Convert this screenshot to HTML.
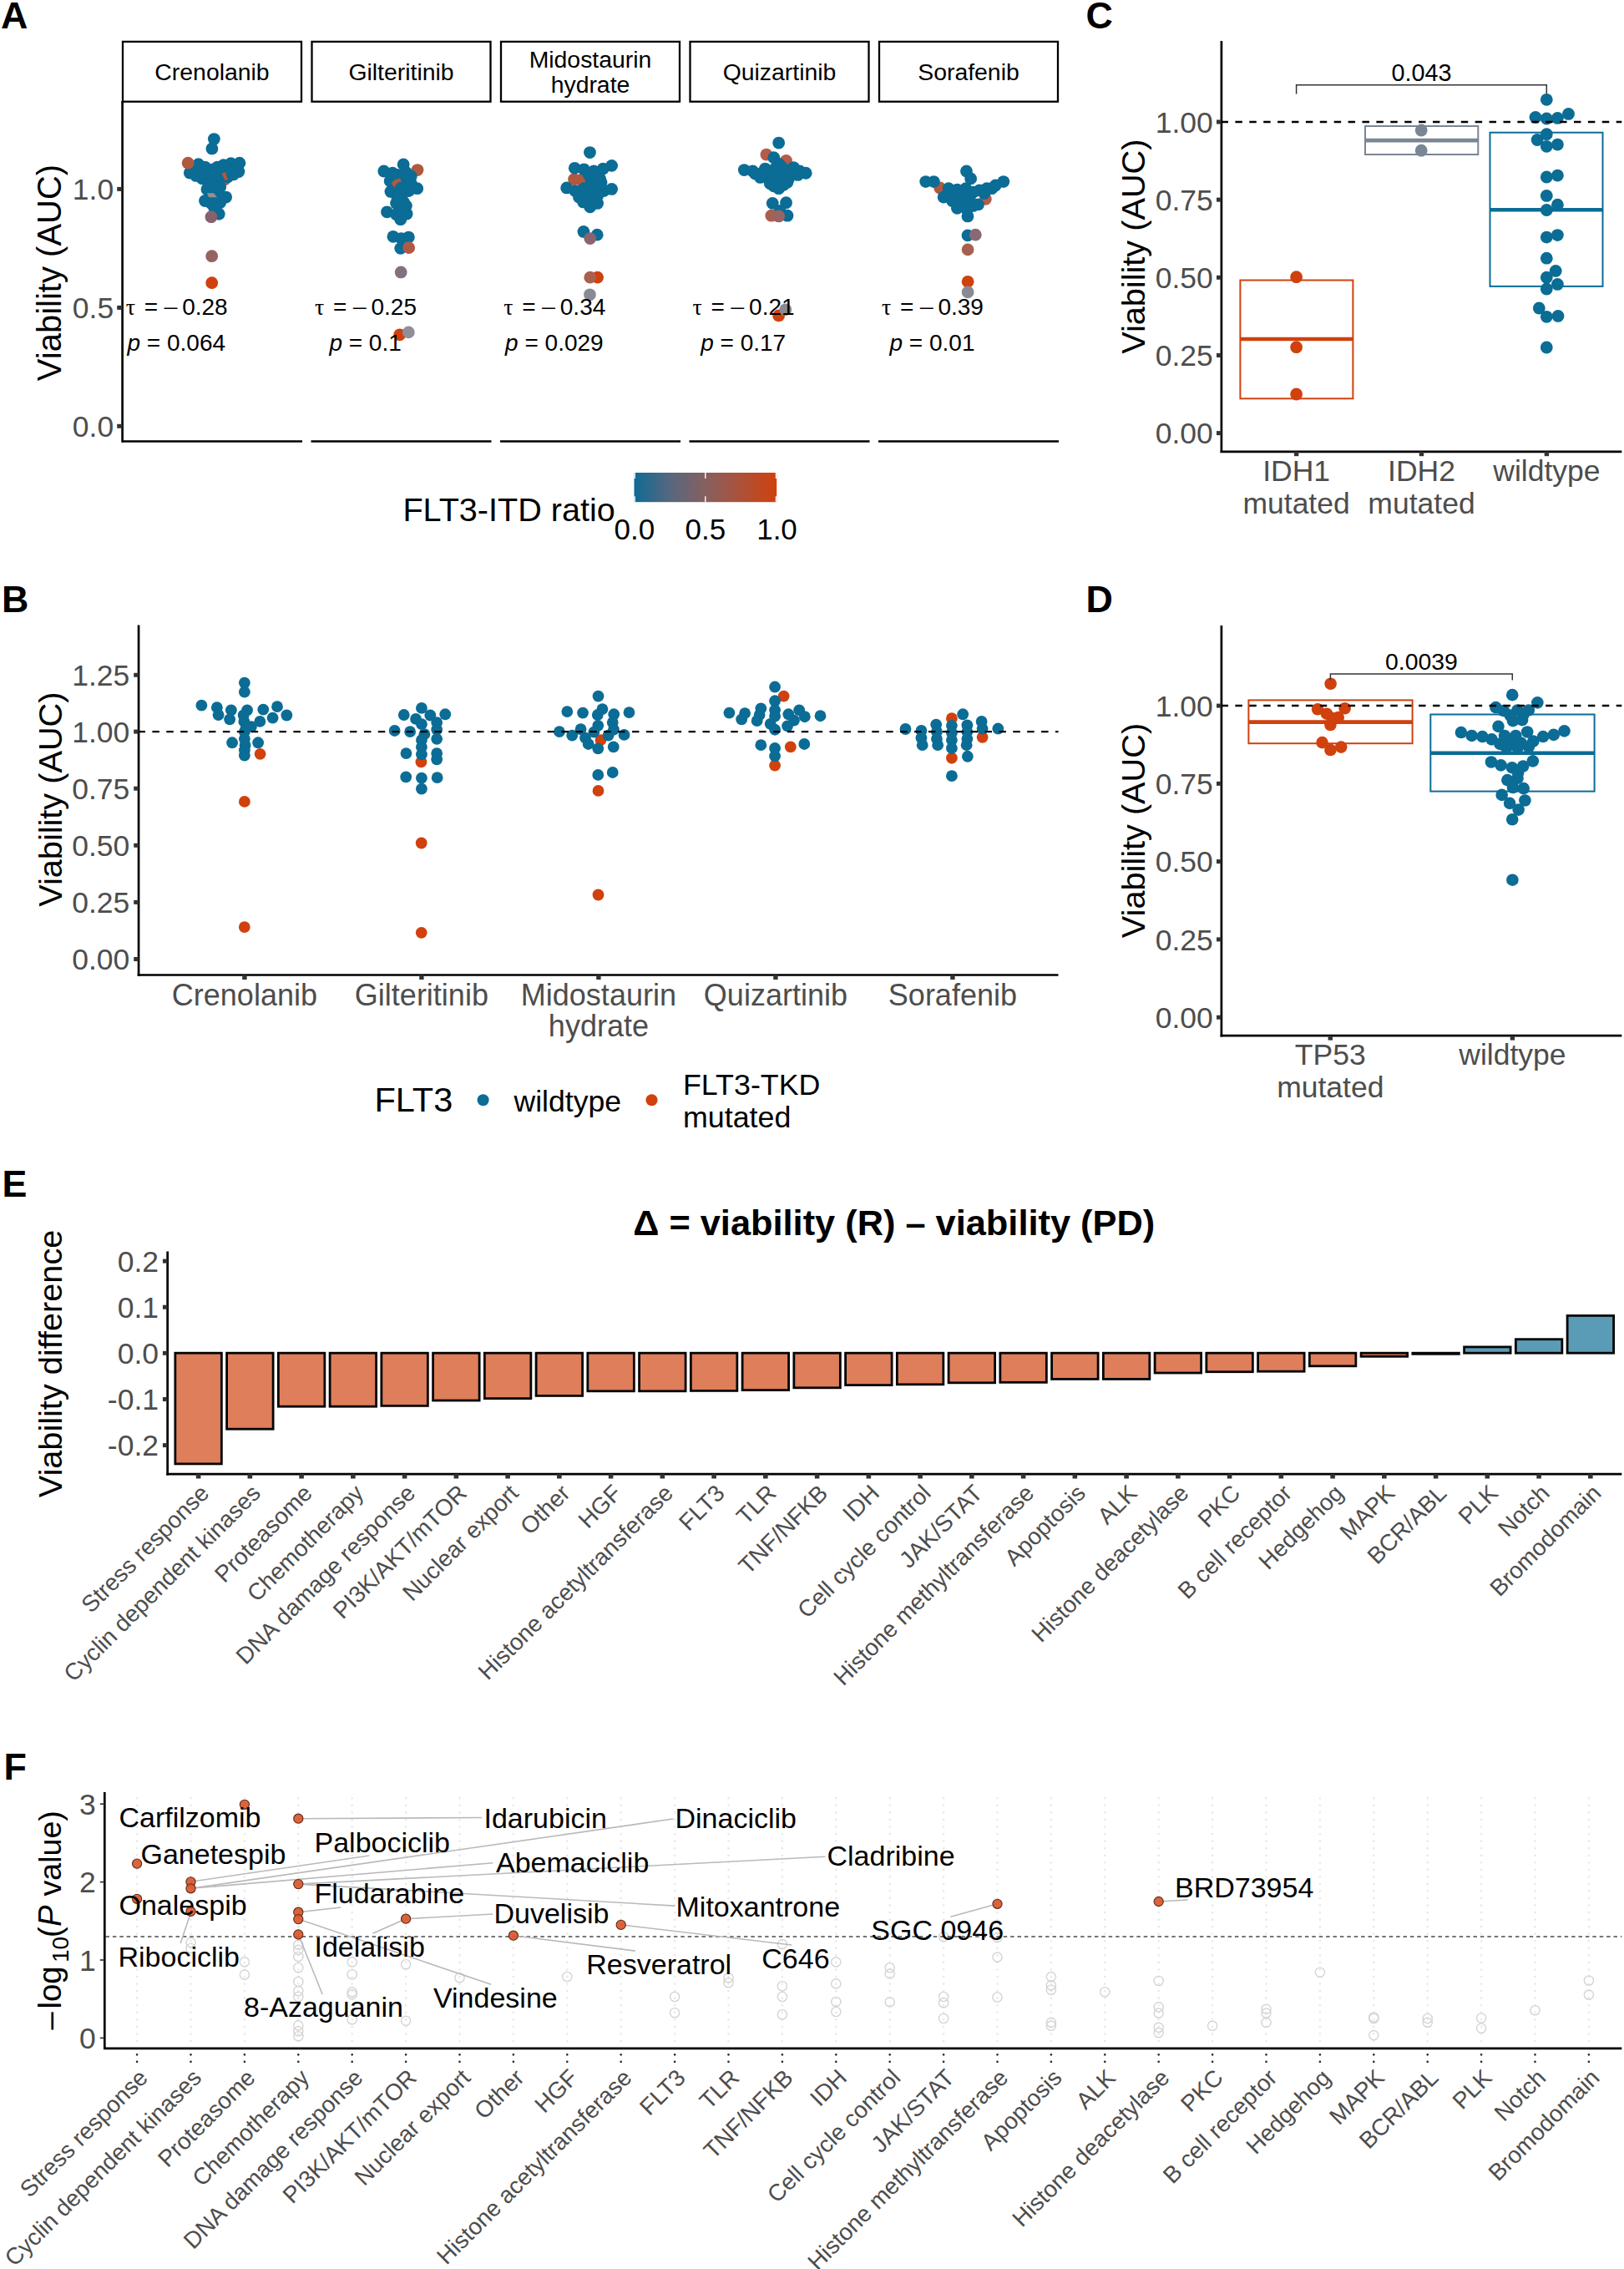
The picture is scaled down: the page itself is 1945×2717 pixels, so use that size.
<!DOCTYPE html>
<html lang="en"><head><meta charset="utf-8"><title>Figure</title>
<style>
html,body{margin:0;padding:0;background:#fff;}
svg{display:block;}
text{font-family:'Liberation Sans', Arial, Helvetica, sans-serif;}
</style></head><body>
<svg width="1945" height="2717" viewBox="0 0 1945 2717">
<rect x="0" y="0" width="1945" height="2717" fill="#fff"/>
<text x="1.1" y="33.5" font-size="44.8" font-weight="bold">A</text>
<rect x="147" y="49.9" width="214" height="71.8" fill="#fff" stroke="#000" stroke-width="2.3"/>
<text x="254" y="96.2" font-size="28.4" text-anchor="middle">Crenolanib</text>
<line x1="146" y1="528.5" x2="362" y2="528.5" stroke="#000" stroke-width="2.7" />
<rect x="373.5" y="49.9" width="214" height="71.8" fill="#fff" stroke="#000" stroke-width="2.3"/>
<text x="480.5" y="96.2" font-size="28.4" text-anchor="middle">Gilteritinib</text>
<line x1="372.5" y1="528.5" x2="588.5" y2="528.5" stroke="#000" stroke-width="2.7" />
<rect x="600" y="49.9" width="214" height="71.8" fill="#fff" stroke="#000" stroke-width="2.3"/>
<text x="707" y="80.7" font-size="28.4" text-anchor="middle">Midostaurin</text>
<text x="707" y="111.3" font-size="28.4" text-anchor="middle">hydrate</text>
<line x1="599" y1="528.5" x2="815" y2="528.5" stroke="#000" stroke-width="2.7" />
<rect x="826.5" y="49.9" width="214" height="71.8" fill="#fff" stroke="#000" stroke-width="2.3"/>
<text x="933.5" y="96.2" font-size="28.4" text-anchor="middle">Quizartinib</text>
<line x1="825.5" y1="528.5" x2="1041.5" y2="528.5" stroke="#000" stroke-width="2.7" />
<rect x="1053" y="49.9" width="214" height="71.8" fill="#fff" stroke="#000" stroke-width="2.3"/>
<text x="1160" y="96.2" font-size="28.4" text-anchor="middle">Sorafenib</text>
<line x1="1052" y1="528.5" x2="1268" y2="528.5" stroke="#000" stroke-width="2.7" />
<line x1="146.6" y1="121" x2="146.6" y2="529.8" stroke="#000" stroke-width="2.7" />
<line x1="140.2" y1="226.4" x2="146.6" y2="226.4" stroke="#333" stroke-width="5" />
<text x="136.2" y="239" font-size="35.5" text-anchor="end" fill="#4d4d4d">1.0</text>
<line x1="140.2" y1="368.4" x2="146.6" y2="368.4" stroke="#333" stroke-width="5" />
<text x="136.2" y="381" font-size="35.5" text-anchor="end" fill="#4d4d4d">0.5</text>
<line x1="140.2" y1="510.3" x2="146.6" y2="510.3" stroke="#333" stroke-width="5" />
<text x="136.2" y="522.9" font-size="35.5" text-anchor="end" fill="#4d4d4d">0.0</text>
<text x="72.6" y="326.5" font-size="40" text-anchor="middle" transform="rotate(-90 72.6 326.5)">Viability (AUC)</text>
<circle cx="269.16" cy="214.68" r="7.4" fill="#c5532c"/>
<circle cx="252.91" cy="234.09" r="7.4" fill="#9a8f90"/>
<circle cx="256.35" cy="166.6" r="7.4" fill="#0b6c95"/>
<circle cx="253.89" cy="177.93" r="7.4" fill="#0b6c95"/>
<circle cx="237.64" cy="196.65" r="7.4" fill="#0b6c95"/>
<circle cx="245.52" cy="200.1" r="7.4" fill="#0b6c95"/>
<circle cx="253.4" cy="203.05" r="7.4" fill="#0b6c95"/>
<circle cx="260.3" cy="200.1" r="7.4" fill="#0b6c95"/>
<circle cx="267.68" cy="197.64" r="7.4" fill="#0b6c95"/>
<circle cx="276.55" cy="195.67" r="7.4" fill="#0b6c95"/>
<circle cx="286.9" cy="195.17" r="7.4" fill="#0b6c95"/>
<circle cx="285.91" cy="205.52" r="7.4" fill="#0b6c95"/>
<circle cx="279.51" cy="208.97" r="7.4" fill="#0b6c95"/>
<circle cx="272.61" cy="211.92" r="7.4" fill="#0b6c95"/>
<circle cx="227.29" cy="207" r="7.4" fill="#0b6c95"/>
<circle cx="234.68" cy="210.44" r="7.4" fill="#0b6c95"/>
<circle cx="242.07" cy="213.89" r="7.4" fill="#0b6c95"/>
<circle cx="248.97" cy="216.85" r="7.4" fill="#0b6c95"/>
<circle cx="255.86" cy="218.82" r="7.4" fill="#0b6c95"/>
<circle cx="262.76" cy="210.94" r="7.4" fill="#0b6c95"/>
<circle cx="257.83" cy="225.71" r="7.4" fill="#0b6c95"/>
<circle cx="261.77" cy="231.63" r="7.4" fill="#0b6c95"/>
<circle cx="270.64" cy="236.06" r="7.4" fill="#0b6c95"/>
<circle cx="245.52" cy="240.49" r="7.4" fill="#0b6c95"/>
<circle cx="252.91" cy="243.45" r="7.4" fill="#0b6c95"/>
<circle cx="263.74" cy="242.46" r="7.4" fill="#0b6c95"/>
<circle cx="256.85" cy="249.36" r="7.4" fill="#0b6c95"/>
<circle cx="262.27" cy="256.26" r="7.4" fill="#0b6c95"/>
<circle cx="243.05" cy="206.01" r="7.4" fill="#0b6c95"/>
<circle cx="250.94" cy="208.97" r="7.4" fill="#0b6c95"/>
<circle cx="268.67" cy="204.04" r="7.4" fill="#0b6c95"/>
<circle cx="275.57" cy="203.05" r="7.4" fill="#0b6c95"/>
<circle cx="235.17" cy="203.05" r="7.4" fill="#0b6c95"/>
<circle cx="258.82" cy="207.98" r="7.4" fill="#0b6c95"/>
<circle cx="281.48" cy="201.08" r="7.4" fill="#0b6c95"/>
<circle cx="264.73" cy="234.58" r="7.4" fill="#0b6c95"/>
<circle cx="253.89" cy="236.55" r="7.4" fill="#0b6c95"/>
<circle cx="249.95" cy="222.76" r="7.4" fill="#0b6c95"/>
<circle cx="263.74" cy="223.74" r="7.4" fill="#0b6c95"/>
<circle cx="247.98" cy="226.7" r="7.4" fill="#0b6c95"/>
<circle cx="225.12" cy="195.17" r="7.4" fill="#b0593f"/>
<circle cx="252.91" cy="259.7" r="7.4" fill="#87616d"/>
<path d="M265.71 207.98 l4 8 l3 -1 l-3 -9z" fill="#c5532c"/>
<path d="M247.98 231.13 l8 0 l4 5 l-10 0z" fill="#9a8f90"/>
<circle cx="253.69" cy="306.65" r="7.4" fill="#96645f"/>
<circle cx="253.69" cy="338.67" r="7.4" fill="#d0410e"/>
<circle cx="499.99" cy="203.54" r="7.4" fill="#b0593f"/>
<circle cx="474.58" cy="217.58" r="7.4" fill="#b0593f"/>
<circle cx="483.15" cy="196.89" r="7.4" fill="#0b6c95"/>
<circle cx="459.8" cy="205.02" r="7.4" fill="#0b6c95"/>
<circle cx="470.14" cy="207.24" r="7.4" fill="#0b6c95"/>
<circle cx="492.31" cy="210.93" r="7.4" fill="#0b6c95"/>
<circle cx="467.19" cy="216.84" r="7.4" fill="#0b6c95"/>
<circle cx="483.44" cy="219.8" r="7.4" fill="#0b6c95"/>
<circle cx="499.7" cy="225.71" r="7.4" fill="#0b6c95"/>
<circle cx="467.93" cy="229.4" r="7.4" fill="#0b6c95"/>
<circle cx="479.01" cy="231.62" r="7.4" fill="#0b6c95"/>
<circle cx="489.35" cy="228.67" r="7.4" fill="#0b6c95"/>
<circle cx="483.44" cy="241.97" r="7.4" fill="#0b6c95"/>
<circle cx="474.58" cy="243.44" r="7.4" fill="#0b6c95"/>
<circle cx="463.49" cy="253.79" r="7.4" fill="#0b6c95"/>
<circle cx="474.58" cy="256.74" r="7.4" fill="#0b6c95"/>
<circle cx="487.14" cy="256" r="7.4" fill="#0b6c95"/>
<circle cx="479.75" cy="262.65" r="7.4" fill="#0b6c95"/>
<circle cx="470.88" cy="283.34" r="7.4" fill="#0b6c95"/>
<circle cx="480.49" cy="285.56" r="7.4" fill="#0b6c95"/>
<circle cx="489.35" cy="284.08" r="7.4" fill="#0b6c95"/>
<circle cx="479.75" cy="297.38" r="7.4" fill="#0b6c95"/>
<circle cx="476.05" cy="209.45" r="7.4" fill="#0b6c95"/>
<circle cx="486.4" cy="206.5" r="7.4" fill="#0b6c95"/>
<circle cx="474.58" cy="224.23" r="7.4" fill="#0b6c95"/>
<circle cx="483.44" cy="230.14" r="7.4" fill="#0b6c95"/>
<circle cx="492.31" cy="219.8" r="7.4" fill="#0b6c95"/>
<circle cx="480.49" cy="252.31" r="7.4" fill="#0b6c95"/>
<circle cx="476.05" cy="237.53" r="7.4" fill="#0b6c95"/>
<circle cx="486.4" cy="246.4" r="7.4" fill="#0b6c95"/>
<path d="M468.67 219.8 q4 -7 11 -6 l1 4 q-6 0 -8 7z" fill="#b0593f"/>
<circle cx="489.65" cy="296.64" r="7.4" fill="#b05a45"/>
<circle cx="480.19" cy="325.9" r="7.4" fill="#84707f"/>
<circle cx="478.71" cy="400.82" r="7.4" fill="#d0410e"/>
<circle cx="489.35" cy="397.87" r="7.4" fill="#8f8f99"/>
<circle cx="687.53" cy="214.63" r="7.4" fill="#b0593f"/>
<circle cx="695.66" cy="215.37" r="7.4" fill="#b0593f"/>
<circle cx="715.61" cy="332.11" r="7.4" fill="#d0410e"/>
<circle cx="706.45" cy="182.56" r="7.4" fill="#0b6c95"/>
<circle cx="732.6" cy="198.37" r="7.4" fill="#0b6c95"/>
<circle cx="722.26" cy="202.07" r="7.4" fill="#0b6c95"/>
<circle cx="688.27" cy="201.33" r="7.4" fill="#0b6c95"/>
<circle cx="699.35" cy="202.8" r="7.4" fill="#0b6c95"/>
<circle cx="711.18" cy="205.02" r="7.4" fill="#0b6c95"/>
<circle cx="718.57" cy="213.89" r="7.4" fill="#0b6c95"/>
<circle cx="708.22" cy="216.84" r="7.4" fill="#0b6c95"/>
<circle cx="678.67" cy="224.97" r="7.4" fill="#0b6c95"/>
<circle cx="689.01" cy="228.67" r="7.4" fill="#0b6c95"/>
<circle cx="699.35" cy="225.71" r="7.4" fill="#0b6c95"/>
<circle cx="711.18" cy="227.19" r="7.4" fill="#0b6c95"/>
<circle cx="723" cy="228.67" r="7.4" fill="#0b6c95"/>
<circle cx="732.6" cy="226.45" r="7.4" fill="#0b6c95"/>
<circle cx="698.62" cy="241.97" r="7.4" fill="#0b6c95"/>
<circle cx="706.74" cy="247.88" r="7.4" fill="#0b6c95"/>
<circle cx="715.61" cy="243.44" r="7.4" fill="#0b6c95"/>
<circle cx="705.27" cy="234.58" r="7.4" fill="#0b6c95"/>
<circle cx="698.91" cy="277.43" r="7.4" fill="#0b6c95"/>
<circle cx="715.17" cy="281.13" r="7.4" fill="#0b6c95"/>
<circle cx="715.61" cy="222.75" r="7.4" fill="#0b6c95"/>
<circle cx="702.31" cy="231.62" r="7.4" fill="#0b6c95"/>
<circle cx="693.44" cy="236.05" r="7.4" fill="#0b6c95"/>
<circle cx="715.61" cy="234.58" r="7.4" fill="#0b6c95"/>
<circle cx="720.04" cy="218.32" r="7.4" fill="#0b6c95"/>
<circle cx="705.27" cy="209.45" r="7.4" fill="#0b6c95"/>
<circle cx="706.74" cy="285.56" r="7.4" fill="#8a6470"/>
<circle cx="706.74" cy="332.11" r="7.4" fill="#a8604f"/>
<circle cx="706.45" cy="352.8" r="7.4" fill="#8a8a94"/>
<circle cx="917.88" cy="185.07" r="7.4" fill="#b55c48"/>
<circle cx="941.52" cy="192.46" r="7.4" fill="#b55c48"/>
<circle cx="932.65" cy="377.92" r="7.4" fill="#d0410e"/>
<circle cx="932.65" cy="171.03" r="7.4" fill="#0b6c95"/>
<circle cx="926.74" cy="188.77" r="7.4" fill="#0b6c95"/>
<circle cx="891.28" cy="203.54" r="7.4" fill="#0b6c95"/>
<circle cx="901.62" cy="205.02" r="7.4" fill="#0b6c95"/>
<circle cx="916.4" cy="202.07" r="7.4" fill="#0b6c95"/>
<circle cx="928.22" cy="202.07" r="7.4" fill="#0b6c95"/>
<circle cx="940.04" cy="203.54" r="7.4" fill="#0b6c95"/>
<circle cx="950.39" cy="200.59" r="7.4" fill="#0b6c95"/>
<circle cx="965.16" cy="207.24" r="7.4" fill="#0b6c95"/>
<circle cx="955.56" cy="209.45" r="7.4" fill="#0b6c95"/>
<circle cx="910.49" cy="212.41" r="7.4" fill="#0b6c95"/>
<circle cx="920.83" cy="215.37" r="7.4" fill="#0b6c95"/>
<circle cx="932.65" cy="215.37" r="7.4" fill="#0b6c95"/>
<circle cx="944.48" cy="213.89" r="7.4" fill="#0b6c95"/>
<circle cx="926.74" cy="222.75" r="7.4" fill="#0b6c95"/>
<circle cx="938.57" cy="221.28" r="7.4" fill="#0b6c95"/>
<circle cx="932.65" cy="225.71" r="7.4" fill="#0b6c95"/>
<circle cx="925.27" cy="243.44" r="7.4" fill="#0b6c95"/>
<circle cx="941.52" cy="242.7" r="7.4" fill="#0b6c95"/>
<circle cx="943" cy="258.22" r="7.4" fill="#0b6c95"/>
<circle cx="913.44" cy="206.5" r="7.4" fill="#0b6c95"/>
<circle cx="923.79" cy="209.45" r="7.4" fill="#0b6c95"/>
<circle cx="935.61" cy="209.45" r="7.4" fill="#0b6c95"/>
<circle cx="945.95" cy="206.5" r="7.4" fill="#0b6c95"/>
<circle cx="957.78" cy="205.02" r="7.4" fill="#0b6c95"/>
<circle cx="904.58" cy="207.98" r="7.4" fill="#0b6c95"/>
<circle cx="931.18" cy="219.8" r="7.4" fill="#0b6c95"/>
<circle cx="922.31" cy="219.8" r="7.4" fill="#0b6c95"/>
<circle cx="943" cy="218.32" r="7.4" fill="#0b6c95"/>
<circle cx="934.13" cy="252.31" r="7.4" fill="#0b6c95"/>
<circle cx="932.65" cy="196.15" r="7.4" fill="#0b6c95"/>
<circle cx="935.61" cy="199.11" r="7.4" fill="#0b6c95"/>
<circle cx="923.79" cy="258.22" r="7.4" fill="#a8604f"/>
<circle cx="932.65" cy="258.96" r="7.4" fill="#9a6463"/>
<circle cx="940.78" cy="370.83" r="7.4" fill="#8a8a8f"/>
<circle cx="1125.71" cy="224.97" r="7.4" fill="#b0593f"/>
<circle cx="1180.39" cy="238.27" r="7.4" fill="#b55c48"/>
<circle cx="1159.11" cy="337.28" r="7.4" fill="#d0410e"/>
<circle cx="1157.48" cy="205.02" r="7.4" fill="#0b6c95"/>
<circle cx="1162.65" cy="213.89" r="7.4" fill="#0b6c95"/>
<circle cx="1108.72" cy="217.58" r="7.4" fill="#0b6c95"/>
<circle cx="1118.32" cy="217.58" r="7.4" fill="#0b6c95"/>
<circle cx="1201.81" cy="217.58" r="7.4" fill="#0b6c95"/>
<circle cx="1192.21" cy="222.02" r="7.4" fill="#0b6c95"/>
<circle cx="1181.86" cy="225.71" r="7.4" fill="#0b6c95"/>
<circle cx="1173" cy="227.93" r="7.4" fill="#0b6c95"/>
<circle cx="1136.05" cy="225.71" r="7.4" fill="#0b6c95"/>
<circle cx="1146.4" cy="227.19" r="7.4" fill="#0b6c95"/>
<circle cx="1156.74" cy="225.71" r="7.4" fill="#0b6c95"/>
<circle cx="1130.14" cy="236.05" r="7.4" fill="#0b6c95"/>
<circle cx="1140.49" cy="240.49" r="7.4" fill="#0b6c95"/>
<circle cx="1150.83" cy="239.01" r="7.4" fill="#0b6c95"/>
<circle cx="1161.18" cy="237.53" r="7.4" fill="#0b6c95"/>
<circle cx="1146.4" cy="249.35" r="7.4" fill="#0b6c95"/>
<circle cx="1158.22" cy="250.83" r="7.4" fill="#0b6c95"/>
<circle cx="1171.52" cy="244.92" r="7.4" fill="#0b6c95"/>
<circle cx="1158.96" cy="258.96" r="7.4" fill="#0b6c95"/>
<circle cx="1158.96" cy="281.86" r="7.4" fill="#0b6c95"/>
<circle cx="1143.44" cy="233.1" r="7.4" fill="#0b6c95"/>
<circle cx="1152.31" cy="231.62" r="7.4" fill="#0b6c95"/>
<circle cx="1165.61" cy="230.14" r="7.4" fill="#0b6c95"/>
<circle cx="1178.91" cy="231.62" r="7.4" fill="#0b6c95"/>
<circle cx="1187.78" cy="225.71" r="7.4" fill="#0b6c95"/>
<circle cx="1153.79" cy="244.92" r="7.4" fill="#0b6c95"/>
<circle cx="1165.61" cy="246.4" r="7.4" fill="#0b6c95"/>
<circle cx="1159.7" cy="243.44" r="7.4" fill="#0b6c95"/>
<circle cx="1137.53" cy="231.62" r="7.4" fill="#0b6c95"/>
<circle cx="1168.27" cy="281.13" r="7.4" fill="#8a6878"/>
<circle cx="1159.11" cy="298.86" r="7.4" fill="#a5604f"/>
<circle cx="1159.11" cy="349.84" r="7.4" fill="#8a8a94"/>
<text x="150.7" y="377.2" font-size="28"><tspan font-family="'Liberation Serif', 'DejaVu Serif', serif" x="150.7">τ</tspan><tspan x="172.7">=</tspan><tspan font-family="'Liberation Serif', 'DejaVu Serif', serif" font-size="31" x="196.7">–</tspan><tspan x="218.2">0.28</tspan></text>
<text x="211.3" y="420" font-size="28" text-anchor="middle"><tspan font-style="italic">p</tspan> = 0.064</text>
<text x="377" y="377.2" font-size="28"><tspan font-family="'Liberation Serif', 'DejaVu Serif', serif" x="377">τ</tspan><tspan x="399">=</tspan><tspan font-family="'Liberation Serif', 'DejaVu Serif', serif" font-size="31" x="423">–</tspan><tspan x="444.5">0.25</tspan></text>
<text x="437.6" y="420" font-size="28" text-anchor="middle"><tspan font-style="italic">p</tspan> = 0.1</text>
<text x="603.3" y="377.2" font-size="28"><tspan font-family="'Liberation Serif', 'DejaVu Serif', serif" x="603.3">τ</tspan><tspan x="625.3">=</tspan><tspan font-family="'Liberation Serif', 'DejaVu Serif', serif" font-size="31" x="649.3">–</tspan><tspan x="670.8">0.34</tspan></text>
<text x="663.9" y="420" font-size="28" text-anchor="middle"><tspan font-style="italic">p</tspan> = 0.029</text>
<text x="829.6" y="377.2" font-size="28"><tspan font-family="'Liberation Serif', 'DejaVu Serif', serif" x="829.6">τ</tspan><tspan x="851.6">=</tspan><tspan font-family="'Liberation Serif', 'DejaVu Serif', serif" font-size="31" x="875.6">–</tspan><tspan x="897.1">0.21</tspan></text>
<text x="890.2" y="420" font-size="28" text-anchor="middle"><tspan font-style="italic">p</tspan> = 0.17</text>
<text x="1055.9" y="377.2" font-size="28"><tspan font-family="'Liberation Serif', 'DejaVu Serif', serif" x="1055.9">τ</tspan><tspan x="1077.9">=</tspan><tspan font-family="'Liberation Serif', 'DejaVu Serif', serif" font-size="31" x="1101.9">–</tspan><tspan x="1123.4">0.39</tspan></text>
<text x="1116.5" y="420" font-size="28" text-anchor="middle"><tspan font-style="italic">p</tspan> = 0.01</text>
<text x="482.4" y="623.6" font-size="39.6">FLT3-ITD ratio</text>
<defs><linearGradient id="gA" x1="0" x2="1" y1="0" y2="0"><stop offset="0" stop-color="#0f6b93"/><stop offset="0.25" stop-color="#56677f"/><stop offset="0.5" stop-color="#86605f"/><stop offset="0.75" stop-color="#ad5139"/><stop offset="1" stop-color="#d0410e"/></linearGradient></defs>
<rect x="759.5" y="566" width="170.7" height="35.2" fill="url(#gA)"/>
<line x1="760.2" y1="566" x2="760.2" y2="573" stroke="#fff" stroke-width="1.4" />
<line x1="760.2" y1="594.2" x2="760.2" y2="601.2" stroke="#fff" stroke-width="1.4" />
<line x1="844.8" y1="566" x2="844.8" y2="573" stroke="#fff" stroke-width="1.4" />
<line x1="844.8" y1="594.2" x2="844.8" y2="601.2" stroke="#fff" stroke-width="1.4" />
<line x1="929.5" y1="566" x2="929.5" y2="573" stroke="#fff" stroke-width="1.4" />
<line x1="929.5" y1="594.2" x2="929.5" y2="601.2" stroke="#fff" stroke-width="1.4" />
<text x="759.8" y="645.6" font-size="35" text-anchor="middle">0.0</text>
<text x="844.8" y="645.6" font-size="35" text-anchor="middle">0.5</text>
<text x="930.5" y="645.6" font-size="35" text-anchor="middle">1.0</text>
<text x="2.1" y="732.5" font-size="44.8" font-weight="bold">B</text>
<line x1="166.05" y1="748.5" x2="166.05" y2="1168.8" stroke="#000" stroke-width="2.7" />
<line x1="164.7" y1="1167.5" x2="1267.5" y2="1167.5" stroke="#000" stroke-width="2.7" />
<line x1="160.2" y1="808.3" x2="166.05" y2="808.3" stroke="#333" stroke-width="5" />
<text x="155.3" y="820.9" font-size="35.5" text-anchor="end" fill="#4d4d4d">1.25</text>
<line x1="160.2" y1="876.1" x2="166.05" y2="876.1" stroke="#333" stroke-width="5" />
<text x="155.3" y="888.7" font-size="35.5" text-anchor="end" fill="#4d4d4d">1.00</text>
<line x1="160.2" y1="944.2" x2="166.05" y2="944.2" stroke="#333" stroke-width="5" />
<text x="155.3" y="956.8" font-size="35.5" text-anchor="end" fill="#4d4d4d">0.75</text>
<line x1="160.2" y1="1012.3" x2="166.05" y2="1012.3" stroke="#333" stroke-width="5" />
<text x="155.3" y="1024.9" font-size="35.5" text-anchor="end" fill="#4d4d4d">0.50</text>
<line x1="160.2" y1="1080.4" x2="166.05" y2="1080.4" stroke="#333" stroke-width="5" />
<text x="155.3" y="1093" font-size="35.5" text-anchor="end" fill="#4d4d4d">0.25</text>
<line x1="160.2" y1="1148.5" x2="166.05" y2="1148.5" stroke="#333" stroke-width="5" />
<text x="155.3" y="1161.1" font-size="35.5" text-anchor="end" fill="#4d4d4d">0.00</text>
<text x="73.9" y="957.2" font-size="39.7" text-anchor="middle" transform="rotate(-90 73.9 957.2)">Viability (AUC)</text>
<line x1="292.9" y1="1167.5" x2="292.9" y2="1173" stroke="#333" stroke-width="5.4" />
<text x="292.9" y="1203.6" font-size="36" text-anchor="middle" fill="#4d4d4d">Crenolanib</text>
<line x1="504.9" y1="1167.5" x2="504.9" y2="1173" stroke="#333" stroke-width="5.4" />
<text x="504.9" y="1203.6" font-size="36" text-anchor="middle" fill="#4d4d4d">Gilteritinib</text>
<line x1="716.9" y1="1167.5" x2="716.9" y2="1173" stroke="#333" stroke-width="5.4" />
<text x="716.9" y="1203.6" font-size="36" text-anchor="middle" fill="#4d4d4d">Midostaurin</text>
<text x="716.9" y="1241.4" font-size="36" text-anchor="middle" fill="#4d4d4d">hydrate</text>
<line x1="928.9" y1="1167.5" x2="928.9" y2="1173" stroke="#333" stroke-width="5.4" />
<text x="928.9" y="1203.6" font-size="36" text-anchor="middle" fill="#4d4d4d">Quizartinib</text>
<line x1="1140.9" y1="1167.5" x2="1140.9" y2="1173" stroke="#333" stroke-width="5.4" />
<text x="1140.9" y="1203.6" font-size="36" text-anchor="middle" fill="#4d4d4d">Sorafenib</text>
<circle cx="504.43" cy="912.41" r="6.9" fill="#d0410e"/>
<circle cx="292.86" cy="817.59" r="6.9" fill="#0b6c95"/>
<circle cx="292.86" cy="828.67" r="6.9" fill="#0b6c95"/>
<circle cx="241.38" cy="844.68" r="6.9" fill="#0b6c95"/>
<circle cx="259.85" cy="847.14" r="6.9" fill="#0b6c95"/>
<circle cx="261.58" cy="856.01" r="6.9" fill="#0b6c95"/>
<circle cx="276.85" cy="850.34" r="6.9" fill="#0b6c95"/>
<circle cx="275.12" cy="861.43" r="6.9" fill="#0b6c95"/>
<circle cx="296.06" cy="850.34" r="6.9" fill="#0b6c95"/>
<circle cx="291.63" cy="856.5" r="6.9" fill="#0b6c95"/>
<circle cx="292.36" cy="863.89" r="6.9" fill="#0b6c95"/>
<circle cx="315.27" cy="849.61" r="6.9" fill="#0b6c95"/>
<circle cx="311.33" cy="863.89" r="6.9" fill="#0b6c95"/>
<circle cx="332.02" cy="846.16" r="6.9" fill="#0b6c95"/>
<circle cx="326.6" cy="859.7" r="6.9" fill="#0b6c95"/>
<circle cx="343.35" cy="856.5" r="6.9" fill="#0b6c95"/>
<circle cx="294.83" cy="870.05" r="6.9" fill="#0b6c95"/>
<circle cx="300.99" cy="870.05" r="6.9" fill="#0b6c95"/>
<circle cx="292.86" cy="876.21" r="6.9" fill="#0b6c95"/>
<circle cx="278.08" cy="889.26" r="6.9" fill="#0b6c95"/>
<circle cx="292.86" cy="884.83" r="6.9" fill="#0b6c95"/>
<circle cx="293.6" cy="892.22" r="6.9" fill="#0b6c95"/>
<circle cx="309.11" cy="889.26" r="6.9" fill="#0b6c95"/>
<circle cx="292.86" cy="898.37" r="6.9" fill="#0b6c95"/>
<circle cx="292.86" cy="904.53" r="6.9" fill="#0b6c95"/>
<circle cx="504.93" cy="847.88" r="6.9" fill="#0b6c95"/>
<circle cx="483.74" cy="856.01" r="6.9" fill="#0b6c95"/>
<circle cx="498.03" cy="860.94" r="6.9" fill="#0b6c95"/>
<circle cx="504.93" cy="867.09" r="6.9" fill="#0b6c95"/>
<circle cx="515.27" cy="856.5" r="6.9" fill="#0b6c95"/>
<circle cx="523.15" cy="865.12" r="6.9" fill="#0b6c95"/>
<circle cx="533.25" cy="855.27" r="6.9" fill="#0b6c95"/>
<circle cx="472.66" cy="874.98" r="6.9" fill="#0b6c95"/>
<circle cx="491.13" cy="876.21" r="6.9" fill="#0b6c95"/>
<circle cx="523.15" cy="873.74" r="6.9" fill="#0b6c95"/>
<circle cx="508.37" cy="879.16" r="6.9" fill="#0b6c95"/>
<circle cx="504.93" cy="886.06" r="6.9" fill="#0b6c95"/>
<circle cx="523.15" cy="884.83" r="6.9" fill="#0b6c95"/>
<circle cx="504.93" cy="894.68" r="6.9" fill="#0b6c95"/>
<circle cx="486.45" cy="902.07" r="6.9" fill="#0b6c95"/>
<circle cx="504.93" cy="903.3" r="6.9" fill="#0b6c95"/>
<circle cx="523.15" cy="902.07" r="6.9" fill="#0b6c95"/>
<circle cx="523.15" cy="909.46" r="6.9" fill="#0b6c95"/>
<circle cx="486.21" cy="930.39" r="6.9" fill="#0b6c95"/>
<circle cx="504.93" cy="931.63" r="6.9" fill="#0b6c95"/>
<circle cx="523.65" cy="931.13" r="6.9" fill="#0b6c95"/>
<circle cx="504.93" cy="944.68" r="6.9" fill="#0b6c95"/>
<circle cx="311.58" cy="902.81" r="6.9" fill="#d0410e"/>
<circle cx="292.86" cy="959.95" r="6.9" fill="#d0410e"/>
<circle cx="292.8" cy="1110.1" r="6.9" fill="#d0410e"/>
<circle cx="504.7" cy="1009.5" r="6.9" fill="#d0410e"/>
<circle cx="504.7" cy="1116.8" r="6.9" fill="#d0410e"/>
<circle cx="716.5" cy="946.9" r="6.9" fill="#d0410e"/>
<circle cx="716.5" cy="1071.5" r="6.9" fill="#d0410e"/>
<circle cx="719.46" cy="886.06" r="6.9" fill="#d0410e"/>
<circle cx="938.67" cy="833.6" r="6.9" fill="#d0410e"/>
<circle cx="928.08" cy="916.6" r="6.9" fill="#d0410e"/>
<circle cx="716.5" cy="833.6" r="6.9" fill="#0b6c95"/>
<circle cx="679.31" cy="852.07" r="6.9" fill="#0b6c95"/>
<circle cx="698.03" cy="853.55" r="6.9" fill="#0b6c95"/>
<circle cx="721.43" cy="849.11" r="6.9" fill="#0b6c95"/>
<circle cx="715.76" cy="856.01" r="6.9" fill="#0b6c95"/>
<circle cx="735.22" cy="855.27" r="6.9" fill="#0b6c95"/>
<circle cx="753.45" cy="853.05" r="6.9" fill="#0b6c95"/>
<circle cx="733.74" cy="865.12" r="6.9" fill="#0b6c95"/>
<circle cx="716.26" cy="868.82" r="6.9" fill="#0b6c95"/>
<circle cx="734.98" cy="873.74" r="6.9" fill="#0b6c95"/>
<circle cx="695.57" cy="873.25" r="6.9" fill="#0b6c95"/>
<circle cx="669.95" cy="876.21" r="6.9" fill="#0b6c95"/>
<circle cx="685.22" cy="880.64" r="6.9" fill="#0b6c95"/>
<circle cx="711.33" cy="876.7" r="6.9" fill="#0b6c95"/>
<circle cx="728.57" cy="880.64" r="6.9" fill="#0b6c95"/>
<circle cx="747.54" cy="879.9" r="6.9" fill="#0b6c95"/>
<circle cx="700.99" cy="883.6" r="6.9" fill="#0b6c95"/>
<circle cx="704.68" cy="890.99" r="6.9" fill="#0b6c95"/>
<circle cx="716.26" cy="896.4" r="6.9" fill="#0b6c95"/>
<circle cx="734.73" cy="894.43" r="6.9" fill="#0b6c95"/>
<circle cx="716.26" cy="927.93" r="6.9" fill="#0b6c95"/>
<circle cx="733.74" cy="924.98" r="6.9" fill="#0b6c95"/>
<circle cx="928.08" cy="822.51" r="6.9" fill="#0b6c95"/>
<circle cx="928.08" cy="839.26" r="6.9" fill="#0b6c95"/>
<circle cx="873.4" cy="853.55" r="6.9" fill="#0b6c95"/>
<circle cx="892.12" cy="854.04" r="6.9" fill="#0b6c95"/>
<circle cx="888.18" cy="861.43" r="6.9" fill="#0b6c95"/>
<circle cx="911.33" cy="848.37" r="6.9" fill="#0b6c95"/>
<circle cx="909.61" cy="856.01" r="6.9" fill="#0b6c95"/>
<circle cx="906.65" cy="863.15" r="6.9" fill="#0b6c95"/>
<circle cx="928.08" cy="850.34" r="6.9" fill="#0b6c95"/>
<circle cx="928.08" cy="857.73" r="6.9" fill="#0b6c95"/>
<circle cx="922.66" cy="866.85" r="6.9" fill="#0b6c95"/>
<circle cx="928.08" cy="873.74" r="6.9" fill="#0b6c95"/>
<circle cx="944.33" cy="855.27" r="6.9" fill="#0b6c95"/>
<circle cx="950.99" cy="862.66" r="6.9" fill="#0b6c95"/>
<circle cx="943.1" cy="869.31" r="6.9" fill="#0b6c95"/>
<circle cx="957.14" cy="850.34" r="6.9" fill="#0b6c95"/>
<circle cx="963.79" cy="858.23" r="6.9" fill="#0b6c95"/>
<circle cx="982.51" cy="857.24" r="6.9" fill="#0b6c95"/>
<circle cx="911.33" cy="892.22" r="6.9" fill="#0b6c95"/>
<circle cx="928.08" cy="895.91" r="6.9" fill="#0b6c95"/>
<circle cx="928.08" cy="905.27" r="6.9" fill="#0b6c95"/>
<circle cx="963.3" cy="890.99" r="6.9" fill="#0b6c95"/>
<circle cx="946.8" cy="894.43" r="6.9" fill="#d0410e"/>
<circle cx="1139.9" cy="860.2" r="6.9" fill="#d0410e"/>
<circle cx="1139.9" cy="907.73" r="6.9" fill="#d0410e"/>
<circle cx="1176.6" cy="882.86" r="6.9" fill="#d0410e"/>
<circle cx="1084.48" cy="873" r="6.9" fill="#0b6c95"/>
<circle cx="1103.45" cy="874.98" r="6.9" fill="#0b6c95"/>
<circle cx="1103.45" cy="883.6" r="6.9" fill="#0b6c95"/>
<circle cx="1104.68" cy="892.22" r="6.9" fill="#0b6c95"/>
<circle cx="1121.18" cy="867.59" r="6.9" fill="#0b6c95"/>
<circle cx="1121.92" cy="876.21" r="6.9" fill="#0b6c95"/>
<circle cx="1121.92" cy="884.83" r="6.9" fill="#0b6c95"/>
<circle cx="1123.15" cy="892.22" r="6.9" fill="#0b6c95"/>
<circle cx="1139.9" cy="868.82" r="6.9" fill="#0b6c95"/>
<circle cx="1139.9" cy="877.44" r="6.9" fill="#0b6c95"/>
<circle cx="1139.9" cy="886.06" r="6.9" fill="#0b6c95"/>
<circle cx="1139.9" cy="895.91" r="6.9" fill="#0b6c95"/>
<circle cx="1153.2" cy="855.27" r="6.9" fill="#0b6c95"/>
<circle cx="1158.37" cy="868.33" r="6.9" fill="#0b6c95"/>
<circle cx="1158.37" cy="876.21" r="6.9" fill="#0b6c95"/>
<circle cx="1158.37" cy="884.83" r="6.9" fill="#0b6c95"/>
<circle cx="1157.64" cy="892.22" r="6.9" fill="#0b6c95"/>
<circle cx="1158.87" cy="905.76" r="6.9" fill="#0b6c95"/>
<circle cx="1175.62" cy="863.89" r="6.9" fill="#0b6c95"/>
<circle cx="1176.6" cy="872.51" r="6.9" fill="#0b6c95"/>
<circle cx="1195.32" cy="872.51" r="6.9" fill="#0b6c95"/>
<circle cx="1139.9" cy="929.16" r="6.9" fill="#0b6c95"/>
<line x1="165.5" y1="876.1" x2="1267.5" y2="876.1" stroke="#000" stroke-width="2.3" stroke-dasharray="8.45 8.45" />
<text x="448.5" y="1331" font-size="41.5">FLT3</text>
<circle cx="578.6" cy="1317.3" r="7" fill="#0b6c95"/>
<text x="615.5" y="1330.8" font-size="35.6">wildtype</text>
<circle cx="780.5" cy="1317.3" r="7" fill="#d0410e"/>
<text x="818" y="1310.8" font-size="35.8">FLT3-TKD</text>
<text x="818" y="1349.5" font-size="35.8">mutated</text>
<text x="1300.6" y="33.5" font-size="44.8" font-weight="bold">C</text>
<line x1="1462.9" y1="49" x2="1462.9" y2="542.1" stroke="#000" stroke-width="2.7" />
<line x1="1461.6" y1="540.8" x2="1942.3" y2="540.8" stroke="#000" stroke-width="2.7" />
<line x1="1457" y1="146" x2="1462.9" y2="146" stroke="#333" stroke-width="5" />
<text x="1452.8" y="158.6" font-size="35.5" text-anchor="end" fill="#4d4d4d">1.00</text>
<line x1="1457" y1="239.15" x2="1462.9" y2="239.15" stroke="#333" stroke-width="5" />
<text x="1452.8" y="251.75" font-size="35.5" text-anchor="end" fill="#4d4d4d">0.75</text>
<line x1="1457" y1="332.3" x2="1462.9" y2="332.3" stroke="#333" stroke-width="5" />
<text x="1452.8" y="344.9" font-size="35.5" text-anchor="end" fill="#4d4d4d">0.50</text>
<line x1="1457" y1="425.45" x2="1462.9" y2="425.45" stroke="#333" stroke-width="5" />
<text x="1452.8" y="438.05" font-size="35.5" text-anchor="end" fill="#4d4d4d">0.25</text>
<line x1="1457" y1="518.6" x2="1462.9" y2="518.6" stroke="#333" stroke-width="5" />
<text x="1452.8" y="531.2" font-size="35.5" text-anchor="end" fill="#4d4d4d">0.00</text>
<text x="1370.6" y="295.2" font-size="39.7" text-anchor="middle" transform="rotate(-90 1370.6 295.2)">Viability (AUC)</text>
<line x1="1552.6" y1="540.8" x2="1552.6" y2="546.2" stroke="#333" stroke-width="5.4" />
<text x="1552.6" y="576.2" font-size="35.5" text-anchor="middle" fill="#4d4d4d">IDH1</text>
<text x="1552.6" y="614.5" font-size="35.5" text-anchor="middle" fill="#4d4d4d">mutated</text>
<line x1="1702.5" y1="540.8" x2="1702.5" y2="546.2" stroke="#333" stroke-width="5.4" />
<text x="1702.5" y="576.2" font-size="35.5" text-anchor="middle" fill="#4d4d4d">IDH2</text>
<text x="1702.5" y="614.5" font-size="35.5" text-anchor="middle" fill="#4d4d4d">mutated</text>
<line x1="1852.4" y1="540.8" x2="1852.4" y2="546.2" stroke="#333" stroke-width="5.4" />
<text x="1852.4" y="576.2" font-size="35.5" text-anchor="middle" fill="#4d4d4d">wildtype</text>
<rect x="1485.4" y="335.5" width="135" height="141.8" fill="none" stroke="#d0410e" stroke-width="2"/>
<line x1="1485.4" y1="406" x2="1620.4" y2="406" stroke="#d0410e" stroke-width="4.6" />
<rect x="1635" y="151" width="135.3" height="34" fill="none" stroke="#7a8595" stroke-width="2"/>
<line x1="1635" y1="168.1" x2="1770.3" y2="168.1" stroke="#7a8595" stroke-width="4.6" />
<rect x="1784.5" y="158.7" width="135" height="184.2" fill="none" stroke="#0b6c95" stroke-width="2"/>
<line x1="1784.5" y1="251.3" x2="1919.5" y2="251.3" stroke="#0b6c95" stroke-width="4.6" />
<circle cx="1552.6" cy="331.7" r="7.4" fill="#d0410e"/>
<circle cx="1552.6" cy="415.7" r="7.4" fill="#d0410e"/>
<circle cx="1552.6" cy="472" r="7.4" fill="#d0410e"/>
<circle cx="1702.2" cy="156" r="7.4" fill="#7a8595"/>
<circle cx="1702.2" cy="180.2" r="7.4" fill="#7a8595"/>
<circle cx="1852.3" cy="119.3" r="7.4" fill="#0b6c95"/>
<circle cx="1839" cy="140.4" r="7.4" fill="#0b6c95"/>
<circle cx="1852.3" cy="142" r="7.4" fill="#0b6c95"/>
<circle cx="1865.4" cy="141.4" r="7.4" fill="#0b6c95"/>
<circle cx="1878.5" cy="136.4" r="7.4" fill="#0b6c95"/>
<circle cx="1852.3" cy="160.7" r="7.4" fill="#0b6c95"/>
<circle cx="1841.1" cy="167.5" r="7.4" fill="#0b6c95"/>
<circle cx="1865.4" cy="173.1" r="7.4" fill="#0b6c95"/>
<circle cx="1852.3" cy="175.3" r="7.4" fill="#0b6c95"/>
<circle cx="1852.3" cy="212" r="7.4" fill="#0b6c95"/>
<circle cx="1865.4" cy="210.1" r="7.4" fill="#0b6c95"/>
<circle cx="1852.3" cy="234.4" r="7.4" fill="#0b6c95"/>
<circle cx="1865.4" cy="245.2" r="7.4" fill="#0b6c95"/>
<circle cx="1852.3" cy="251.5" r="7.4" fill="#0b6c95"/>
<circle cx="1852.3" cy="284.1" r="7.4" fill="#0b6c95"/>
<circle cx="1865.4" cy="281.6" r="7.4" fill="#0b6c95"/>
<circle cx="1852.3" cy="309.2" r="7.4" fill="#0b6c95"/>
<circle cx="1863.2" cy="324.4" r="7.4" fill="#0b6c95"/>
<circle cx="1852.3" cy="332.2" r="7.4" fill="#0b6c95"/>
<circle cx="1865.4" cy="340.4" r="7.4" fill="#0b6c95"/>
<circle cx="1852.3" cy="346" r="7.4" fill="#0b6c95"/>
<circle cx="1843.3" cy="369" r="7.4" fill="#0b6c95"/>
<circle cx="1852.3" cy="379.3" r="7.4" fill="#0b6c95"/>
<circle cx="1866" cy="378.4" r="7.4" fill="#0b6c95"/>
<circle cx="1852.3" cy="416" r="7.4" fill="#0b6c95"/>
<line x1="1462.5" y1="146" x2="1942.3" y2="146" stroke="#000" stroke-width="2.3" stroke-dasharray="8.45 8.45" />
<path d="M1552.6 112.5 V101.7 H1852.3 V112.5" fill="none" stroke="#333" stroke-width="1.5"/>
<text x="1702.5" y="96.6" font-size="28.8" text-anchor="middle">0.043</text>
<text x="1300.6" y="732.5" font-size="44.8" font-weight="bold">D</text>
<line x1="1462.9" y1="749" x2="1462.9" y2="1241.5" stroke="#000" stroke-width="2.7" />
<line x1="1461.6" y1="1240.2" x2="1942.3" y2="1240.2" stroke="#000" stroke-width="2.7" />
<line x1="1457" y1="845.1" x2="1462.9" y2="845.1" stroke="#333" stroke-width="5" />
<text x="1452.8" y="857.7" font-size="35.5" text-anchor="end" fill="#4d4d4d">1.00</text>
<line x1="1457" y1="938.35" x2="1462.9" y2="938.35" stroke="#333" stroke-width="5" />
<text x="1452.8" y="950.95" font-size="35.5" text-anchor="end" fill="#4d4d4d">0.75</text>
<line x1="1457" y1="1031.6" x2="1462.9" y2="1031.6" stroke="#333" stroke-width="5" />
<text x="1452.8" y="1044.2" font-size="35.5" text-anchor="end" fill="#4d4d4d">0.50</text>
<line x1="1457" y1="1124.9" x2="1462.9" y2="1124.9" stroke="#333" stroke-width="5" />
<text x="1452.8" y="1137.5" font-size="35.5" text-anchor="end" fill="#4d4d4d">0.25</text>
<line x1="1457" y1="1218.2" x2="1462.9" y2="1218.2" stroke="#333" stroke-width="5" />
<text x="1452.8" y="1230.8" font-size="35.5" text-anchor="end" fill="#4d4d4d">0.00</text>
<text x="1370.6" y="994.5" font-size="39.7" text-anchor="middle" transform="rotate(-90 1370.6 994.5)">Viability (AUC)</text>
<line x1="1593.3" y1="1240.2" x2="1593.3" y2="1245.6" stroke="#333" stroke-width="5.4" />
<text x="1593.3" y="1275.2" font-size="35.5" text-anchor="middle" fill="#4d4d4d">TP53</text>
<text x="1593.3" y="1313.7" font-size="35.5" text-anchor="middle" fill="#4d4d4d">mutated</text>
<line x1="1811.4" y1="1240.2" x2="1811.4" y2="1245.6" stroke="#333" stroke-width="5.4" />
<text x="1811.4" y="1275.2" font-size="35.5" text-anchor="middle" fill="#4d4d4d">wildtype</text>
<rect x="1495.4" y="838.4" width="196.2" height="51.8" fill="none" stroke="#d0410e" stroke-width="2"/>
<line x1="1495.4" y1="864.6" x2="1691.6" y2="864.6" stroke="#d0410e" stroke-width="4.6" />
<rect x="1713.3" y="855.5" width="196.3" height="92.1" fill="none" stroke="#0b6c95" stroke-width="2"/>
<line x1="1713.3" y1="901.7" x2="1909.6" y2="901.7" stroke="#0b6c95" stroke-width="4.6" />
<circle cx="1593.6" cy="818.72" r="7.3" fill="#d0410e"/>
<circle cx="1578.13" cy="849.26" r="7.3" fill="#d0410e"/>
<circle cx="1610.64" cy="848.28" r="7.3" fill="#d0410e"/>
<circle cx="1588.97" cy="854.68" r="7.3" fill="#d0410e"/>
<circle cx="1602.76" cy="859.11" r="7.3" fill="#d0410e"/>
<circle cx="1595.86" cy="860.1" r="7.3" fill="#d0410e"/>
<circle cx="1593.4" cy="867.98" r="7.3" fill="#d0410e"/>
<circle cx="1583.55" cy="889.16" r="7.3" fill="#d0410e"/>
<circle cx="1593.4" cy="898.03" r="7.3" fill="#d0410e"/>
<circle cx="1606.21" cy="894.58" r="7.3" fill="#d0410e"/>
<circle cx="1811.22" cy="832.17" r="7.3" fill="#0b6c95"/>
<circle cx="1841.37" cy="841.37" r="7.3" fill="#0b6c95"/>
<circle cx="1791.49" cy="847.13" r="7.3" fill="#0b6c95"/>
<circle cx="1800.91" cy="851.01" r="7.3" fill="#0b6c95"/>
<circle cx="1817.54" cy="850.46" r="7.3" fill="#0b6c95"/>
<circle cx="1830.84" cy="850.46" r="7.3" fill="#0b6c95"/>
<circle cx="1808.67" cy="856.55" r="7.3" fill="#0b6c95"/>
<circle cx="1824.19" cy="856.55" r="7.3" fill="#0b6c95"/>
<circle cx="1812" cy="863.2" r="7.3" fill="#0b6c95"/>
<circle cx="1823.08" cy="862.09" r="7.3" fill="#0b6c95"/>
<circle cx="1794.48" cy="869.85" r="7.3" fill="#0b6c95"/>
<circle cx="1749.93" cy="877.06" r="7.3" fill="#0b6c95"/>
<circle cx="1762.67" cy="880.94" r="7.3" fill="#0b6c95"/>
<circle cx="1775.42" cy="882.05" r="7.3" fill="#0b6c95"/>
<circle cx="1786.5" cy="885.37" r="7.3" fill="#0b6c95"/>
<circle cx="1829.18" cy="876.5" r="7.3" fill="#0b6c95"/>
<circle cx="1815.32" cy="880.94" r="7.3" fill="#0b6c95"/>
<circle cx="1802.02" cy="880.94" r="7.3" fill="#0b6c95"/>
<circle cx="1873.51" cy="875.4" r="7.3" fill="#0b6c95"/>
<circle cx="1860.77" cy="879.83" r="7.3" fill="#0b6c95"/>
<circle cx="1848.02" cy="882.05" r="7.3" fill="#0b6c95"/>
<circle cx="1836.38" cy="887.59" r="7.3" fill="#0b6c95"/>
<circle cx="1796.48" cy="890.91" r="7.3" fill="#0b6c95"/>
<circle cx="1808.67" cy="889.8" r="7.3" fill="#0b6c95"/>
<circle cx="1821.97" cy="889.8" r="7.3" fill="#0b6c95"/>
<circle cx="1804.24" cy="895.35" r="7.3" fill="#0b6c95"/>
<circle cx="1817.54" cy="895.35" r="7.3" fill="#0b6c95"/>
<circle cx="1830.84" cy="894.24" r="7.3" fill="#0b6c95"/>
<circle cx="1785.95" cy="912.53" r="7.3" fill="#0b6c95"/>
<circle cx="1797.59" cy="916.41" r="7.3" fill="#0b6c95"/>
<circle cx="1810.89" cy="919.18" r="7.3" fill="#0b6c95"/>
<circle cx="1824.19" cy="917.51" r="7.3" fill="#0b6c95"/>
<circle cx="1835.83" cy="911.42" r="7.3" fill="#0b6c95"/>
<circle cx="1818.09" cy="925.27" r="7.3" fill="#0b6c95"/>
<circle cx="1805.35" cy="934.14" r="7.3" fill="#0b6c95"/>
<circle cx="1817.54" cy="931.92" r="7.3" fill="#0b6c95"/>
<circle cx="1812" cy="943.01" r="7.3" fill="#0b6c95"/>
<circle cx="1824.74" cy="944.12" r="7.3" fill="#0b6c95"/>
<circle cx="1798.7" cy="951.88" r="7.3" fill="#0b6c95"/>
<circle cx="1826.41" cy="958.53" r="7.3" fill="#0b6c95"/>
<circle cx="1808.12" cy="961.85" r="7.3" fill="#0b6c95"/>
<circle cx="1818.65" cy="969.61" r="7.3" fill="#0b6c95"/>
<circle cx="1811.22" cy="981.25" r="7.3" fill="#0b6c95"/>
<circle cx="1811.4" cy="1053.7" r="7.3" fill="#0b6c95"/>
<line x1="1462.5" y1="845" x2="1942.3" y2="845" stroke="#000" stroke-width="2.3" stroke-dasharray="8.45 8.45" />
<path d="M1593.4 814.5 V807 H1811.3 V814.5" fill="none" stroke="#333" stroke-width="1.5"/>
<text x="1702.4" y="801.6" font-size="28.4" text-anchor="middle">0.0039</text>
<text x="2.4" y="1432.8" font-size="44.8" font-weight="bold">E</text>
<text x="1070.7" y="1479" font-size="42" text-anchor="middle" font-weight="bold" textLength="625" lengthAdjust="spacingAndGlyphs">Δ = viability (R) – viability (PD)</text>
<rect x="209.85" y="1620.2" width="55.5" height="132.7" fill="#de7e5b" stroke="#050505" stroke-width="2.8"/>
<rect x="271.6" y="1620.2" width="55.5" height="91" fill="#de7e5b" stroke="#050505" stroke-width="2.8"/>
<rect x="333.35" y="1620.2" width="55.5" height="64" fill="#de7e5b" stroke="#050505" stroke-width="2.8"/>
<rect x="395.1" y="1620.2" width="55.5" height="64" fill="#de7e5b" stroke="#050505" stroke-width="2.8"/>
<rect x="456.85" y="1620.2" width="55.5" height="63.2" fill="#de7e5b" stroke="#050505" stroke-width="2.8"/>
<rect x="518.6" y="1620.2" width="55.5" height="56.8" fill="#de7e5b" stroke="#050505" stroke-width="2.8"/>
<rect x="580.35" y="1620.2" width="55.5" height="54.4" fill="#de7e5b" stroke="#050505" stroke-width="2.8"/>
<rect x="642.1" y="1620.2" width="55.5" height="51.2" fill="#de7e5b" stroke="#050505" stroke-width="2.8"/>
<rect x="703.85" y="1620.2" width="55.5" height="45.6" fill="#de7e5b" stroke="#050505" stroke-width="2.8"/>
<rect x="765.6" y="1620.2" width="55.5" height="45.6" fill="#de7e5b" stroke="#050505" stroke-width="2.8"/>
<rect x="827.35" y="1620.2" width="55.5" height="45.2" fill="#de7e5b" stroke="#050505" stroke-width="2.8"/>
<rect x="889.1" y="1620.2" width="55.5" height="44.4" fill="#de7e5b" stroke="#050505" stroke-width="2.8"/>
<rect x="950.85" y="1620.2" width="55.5" height="41.6" fill="#de7e5b" stroke="#050505" stroke-width="2.8"/>
<rect x="1012.6" y="1620.2" width="55.5" height="38.4" fill="#de7e5b" stroke="#050505" stroke-width="2.8"/>
<rect x="1074.35" y="1620.2" width="55.5" height="37.6" fill="#de7e5b" stroke="#050505" stroke-width="2.8"/>
<rect x="1136.1" y="1620.2" width="55.5" height="35.6" fill="#de7e5b" stroke="#050505" stroke-width="2.8"/>
<rect x="1197.85" y="1620.2" width="55.5" height="35.1" fill="#de7e5b" stroke="#050505" stroke-width="2.8"/>
<rect x="1259.6" y="1620.2" width="55.5" height="31.2" fill="#de7e5b" stroke="#050505" stroke-width="2.8"/>
<rect x="1321.35" y="1620.2" width="55.5" height="31.2" fill="#de7e5b" stroke="#050505" stroke-width="2.8"/>
<rect x="1383.1" y="1620.2" width="55.5" height="23.8" fill="#de7e5b" stroke="#050505" stroke-width="2.8"/>
<rect x="1444.85" y="1620.2" width="55.5" height="22.5" fill="#de7e5b" stroke="#050505" stroke-width="2.8"/>
<rect x="1506.6" y="1620.2" width="55.5" height="22" fill="#de7e5b" stroke="#050505" stroke-width="2.8"/>
<rect x="1568.35" y="1620.2" width="55.5" height="15.6" fill="#de7e5b" stroke="#050505" stroke-width="2.8"/>
<rect x="1630.1" y="1620.2" width="55.5" height="4.1" fill="#de7e5b" stroke="#050505" stroke-width="2.8"/>
<rect x="1691.85" y="1620.2" width="55.5" height="1.1" fill="#de7e5b" stroke="#050505" stroke-width="2.8"/>
<rect x="1753.6" y="1612.9" width="55.5" height="7.3" fill="#5a9cb6" stroke="#050505" stroke-width="2.8"/>
<rect x="1815.35" y="1603.7" width="55.5" height="16.5" fill="#5a9cb6" stroke="#050505" stroke-width="2.8"/>
<rect x="1877.1" y="1575.4" width="55.5" height="44.8" fill="#5a9cb6" stroke="#050505" stroke-width="2.8"/>
<line x1="200.65" y1="1498.6" x2="200.65" y2="1766.4" stroke="#000" stroke-width="2.7" />
<line x1="199.3" y1="1765.05" x2="1942.3" y2="1765.05" stroke="#000" stroke-width="2.7" />
<line x1="194.9" y1="1510.1" x2="200.65" y2="1510.1" stroke="#333" stroke-width="5" />
<text x="190" y="1522.7" font-size="35.5" text-anchor="end" fill="#4d4d4d">0.2</text>
<line x1="194.9" y1="1565.2" x2="200.65" y2="1565.2" stroke="#333" stroke-width="5" />
<text x="190" y="1577.8" font-size="35.5" text-anchor="end" fill="#4d4d4d">0.1</text>
<line x1="194.9" y1="1620.3" x2="200.65" y2="1620.3" stroke="#333" stroke-width="5" />
<text x="190" y="1632.9" font-size="35.5" text-anchor="end" fill="#4d4d4d">0.0</text>
<line x1="194.9" y1="1675.5" x2="200.65" y2="1675.5" stroke="#333" stroke-width="5" />
<text x="190" y="1688.1" font-size="35.5" text-anchor="end" fill="#4d4d4d">-0.1</text>
<line x1="194.9" y1="1730.6" x2="200.65" y2="1730.6" stroke="#333" stroke-width="5" />
<text x="190" y="1743.2" font-size="35.5" text-anchor="end" fill="#4d4d4d">-0.2</text>
<text x="73.7" y="1633" font-size="39.7" text-anchor="middle" transform="rotate(-90 73.7 1633)">Viability difference</text>
<line x1="237.6" y1="1765.05" x2="237.6" y2="1770.5" stroke="#333" stroke-width="5.6" />
<text x="252" y="1789.7" font-size="28" text-anchor="end" fill="#4d4d4d" transform="rotate(-45 252 1789.7)">Stress response</text>
<line x1="299.35" y1="1765.05" x2="299.35" y2="1770.5" stroke="#333" stroke-width="5.6" />
<text x="313.75" y="1789.7" font-size="28" text-anchor="end" fill="#4d4d4d" transform="rotate(-45 313.75 1789.7)">Cyclin dependent kinases</text>
<line x1="361.1" y1="1765.05" x2="361.1" y2="1770.5" stroke="#333" stroke-width="5.6" />
<text x="375.5" y="1789.7" font-size="28" text-anchor="end" fill="#4d4d4d" transform="rotate(-45 375.5 1789.7)">Proteasome</text>
<line x1="422.85" y1="1765.05" x2="422.85" y2="1770.5" stroke="#333" stroke-width="5.6" />
<text x="437.25" y="1789.7" font-size="28" text-anchor="end" fill="#4d4d4d" transform="rotate(-45 437.25 1789.7)">Chemotherapy</text>
<line x1="484.6" y1="1765.05" x2="484.6" y2="1770.5" stroke="#333" stroke-width="5.6" />
<text x="499" y="1789.7" font-size="28" text-anchor="end" fill="#4d4d4d" transform="rotate(-45 499 1789.7)">DNA damage response</text>
<line x1="546.35" y1="1765.05" x2="546.35" y2="1770.5" stroke="#333" stroke-width="5.6" />
<text x="560.75" y="1789.7" font-size="28" text-anchor="end" fill="#4d4d4d" transform="rotate(-45 560.75 1789.7)">PI3K/AKT/mTOR</text>
<line x1="608.1" y1="1765.05" x2="608.1" y2="1770.5" stroke="#333" stroke-width="5.6" />
<text x="622.5" y="1789.7" font-size="28" text-anchor="end" fill="#4d4d4d" transform="rotate(-45 622.5 1789.7)">Nuclear export</text>
<line x1="669.85" y1="1765.05" x2="669.85" y2="1770.5" stroke="#333" stroke-width="5.6" />
<text x="684.25" y="1789.7" font-size="28" text-anchor="end" fill="#4d4d4d" transform="rotate(-45 684.25 1789.7)">Other</text>
<line x1="731.6" y1="1765.05" x2="731.6" y2="1770.5" stroke="#333" stroke-width="5.6" />
<text x="746" y="1789.7" font-size="28" text-anchor="end" fill="#4d4d4d" transform="rotate(-45 746 1789.7)">HGF</text>
<line x1="793.35" y1="1765.05" x2="793.35" y2="1770.5" stroke="#333" stroke-width="5.6" />
<text x="807.75" y="1789.7" font-size="28" text-anchor="end" fill="#4d4d4d" transform="rotate(-45 807.75 1789.7)">Histone acetyltransferase</text>
<line x1="855.1" y1="1765.05" x2="855.1" y2="1770.5" stroke="#333" stroke-width="5.6" />
<text x="869.5" y="1789.7" font-size="28" text-anchor="end" fill="#4d4d4d" transform="rotate(-45 869.5 1789.7)">FLT3</text>
<line x1="916.85" y1="1765.05" x2="916.85" y2="1770.5" stroke="#333" stroke-width="5.6" />
<text x="931.25" y="1789.7" font-size="28" text-anchor="end" fill="#4d4d4d" transform="rotate(-45 931.25 1789.7)">TLR</text>
<line x1="978.6" y1="1765.05" x2="978.6" y2="1770.5" stroke="#333" stroke-width="5.6" />
<text x="993" y="1789.7" font-size="28" text-anchor="end" fill="#4d4d4d" transform="rotate(-45 993 1789.7)">TNF/NFKB</text>
<line x1="1040.35" y1="1765.05" x2="1040.35" y2="1770.5" stroke="#333" stroke-width="5.6" />
<text x="1054.75" y="1789.7" font-size="28" text-anchor="end" fill="#4d4d4d" transform="rotate(-45 1054.75 1789.7)">IDH</text>
<line x1="1102.1" y1="1765.05" x2="1102.1" y2="1770.5" stroke="#333" stroke-width="5.6" />
<text x="1116.5" y="1789.7" font-size="28" text-anchor="end" fill="#4d4d4d" transform="rotate(-45 1116.5 1789.7)">Cell cycle control</text>
<line x1="1163.85" y1="1765.05" x2="1163.85" y2="1770.5" stroke="#333" stroke-width="5.6" />
<text x="1178.25" y="1789.7" font-size="28" text-anchor="end" fill="#4d4d4d" transform="rotate(-45 1178.25 1789.7)">JAK/STAT</text>
<line x1="1225.6" y1="1765.05" x2="1225.6" y2="1770.5" stroke="#333" stroke-width="5.6" />
<text x="1240" y="1789.7" font-size="28" text-anchor="end" fill="#4d4d4d" transform="rotate(-45 1240 1789.7)">Histone methyltransferase</text>
<line x1="1287.35" y1="1765.05" x2="1287.35" y2="1770.5" stroke="#333" stroke-width="5.6" />
<text x="1301.75" y="1789.7" font-size="28" text-anchor="end" fill="#4d4d4d" transform="rotate(-45 1301.75 1789.7)">Apoptosis</text>
<line x1="1349.1" y1="1765.05" x2="1349.1" y2="1770.5" stroke="#333" stroke-width="5.6" />
<text x="1363.5" y="1789.7" font-size="28" text-anchor="end" fill="#4d4d4d" transform="rotate(-45 1363.5 1789.7)">ALK</text>
<line x1="1410.85" y1="1765.05" x2="1410.85" y2="1770.5" stroke="#333" stroke-width="5.6" />
<text x="1425.25" y="1789.7" font-size="28" text-anchor="end" fill="#4d4d4d" transform="rotate(-45 1425.25 1789.7)">Histone deacetylase</text>
<line x1="1472.6" y1="1765.05" x2="1472.6" y2="1770.5" stroke="#333" stroke-width="5.6" />
<text x="1487" y="1789.7" font-size="28" text-anchor="end" fill="#4d4d4d" transform="rotate(-45 1487 1789.7)">PKC</text>
<line x1="1534.35" y1="1765.05" x2="1534.35" y2="1770.5" stroke="#333" stroke-width="5.6" />
<text x="1548.75" y="1789.7" font-size="28" text-anchor="end" fill="#4d4d4d" transform="rotate(-45 1548.75 1789.7)">B cell receptor</text>
<line x1="1596.1" y1="1765.05" x2="1596.1" y2="1770.5" stroke="#333" stroke-width="5.6" />
<text x="1610.5" y="1789.7" font-size="28" text-anchor="end" fill="#4d4d4d" transform="rotate(-45 1610.5 1789.7)">Hedgehog</text>
<line x1="1657.85" y1="1765.05" x2="1657.85" y2="1770.5" stroke="#333" stroke-width="5.6" />
<text x="1672.25" y="1789.7" font-size="28" text-anchor="end" fill="#4d4d4d" transform="rotate(-45 1672.25 1789.7)">MAPK</text>
<line x1="1719.6" y1="1765.05" x2="1719.6" y2="1770.5" stroke="#333" stroke-width="5.6" />
<text x="1734" y="1789.7" font-size="28" text-anchor="end" fill="#4d4d4d" transform="rotate(-45 1734 1789.7)">BCR/ABL</text>
<line x1="1781.35" y1="1765.05" x2="1781.35" y2="1770.5" stroke="#333" stroke-width="5.6" />
<text x="1795.75" y="1789.7" font-size="28" text-anchor="end" fill="#4d4d4d" transform="rotate(-45 1795.75 1789.7)">PLK</text>
<line x1="1843.1" y1="1765.05" x2="1843.1" y2="1770.5" stroke="#333" stroke-width="5.6" />
<text x="1857.5" y="1789.7" font-size="28" text-anchor="end" fill="#4d4d4d" transform="rotate(-45 1857.5 1789.7)">Notch</text>
<line x1="1904.85" y1="1765.05" x2="1904.85" y2="1770.5" stroke="#333" stroke-width="5.6" />
<text x="1919.25" y="1789.7" font-size="28" text-anchor="end" fill="#4d4d4d" transform="rotate(-45 1919.25 1789.7)">Bromodomain</text>
<text x="4.4" y="2131.2" font-size="44.8" font-weight="bold">F</text>
<line x1="164.1" y1="2444" x2="164.1" y2="2146" stroke="#e9e9e9" stroke-width="2.7" stroke-dasharray="0.01 8.54" stroke-linecap="round" />
<line x1="228.5" y1="2444" x2="228.5" y2="2146" stroke="#e9e9e9" stroke-width="2.7" stroke-dasharray="0.01 8.54" stroke-linecap="round" />
<line x1="292.9" y1="2444" x2="292.9" y2="2146" stroke="#e9e9e9" stroke-width="2.7" stroke-dasharray="0.01 8.54" stroke-linecap="round" />
<line x1="357.3" y1="2444" x2="357.3" y2="2146" stroke="#e9e9e9" stroke-width="2.7" stroke-dasharray="0.01 8.54" stroke-linecap="round" />
<line x1="421.7" y1="2444" x2="421.7" y2="2146" stroke="#e9e9e9" stroke-width="2.7" stroke-dasharray="0.01 8.54" stroke-linecap="round" />
<line x1="486.1" y1="2444" x2="486.1" y2="2146" stroke="#e9e9e9" stroke-width="2.7" stroke-dasharray="0.01 8.54" stroke-linecap="round" />
<line x1="550.5" y1="2444" x2="550.5" y2="2146" stroke="#e9e9e9" stroke-width="2.7" stroke-dasharray="0.01 8.54" stroke-linecap="round" />
<line x1="614.9" y1="2444" x2="614.9" y2="2146" stroke="#e9e9e9" stroke-width="2.7" stroke-dasharray="0.01 8.54" stroke-linecap="round" />
<line x1="679.3" y1="2444" x2="679.3" y2="2146" stroke="#e9e9e9" stroke-width="2.7" stroke-dasharray="0.01 8.54" stroke-linecap="round" />
<line x1="743.7" y1="2444" x2="743.7" y2="2146" stroke="#e9e9e9" stroke-width="2.7" stroke-dasharray="0.01 8.54" stroke-linecap="round" />
<line x1="808.1" y1="2444" x2="808.1" y2="2146" stroke="#e9e9e9" stroke-width="2.7" stroke-dasharray="0.01 8.54" stroke-linecap="round" />
<line x1="872.5" y1="2444" x2="872.5" y2="2146" stroke="#e9e9e9" stroke-width="2.7" stroke-dasharray="0.01 8.54" stroke-linecap="round" />
<line x1="936.9" y1="2444" x2="936.9" y2="2146" stroke="#e9e9e9" stroke-width="2.7" stroke-dasharray="0.01 8.54" stroke-linecap="round" />
<line x1="1001.3" y1="2444" x2="1001.3" y2="2146" stroke="#e9e9e9" stroke-width="2.7" stroke-dasharray="0.01 8.54" stroke-linecap="round" />
<line x1="1065.7" y1="2444" x2="1065.7" y2="2146" stroke="#e9e9e9" stroke-width="2.7" stroke-dasharray="0.01 8.54" stroke-linecap="round" />
<line x1="1130.1" y1="2444" x2="1130.1" y2="2146" stroke="#e9e9e9" stroke-width="2.7" stroke-dasharray="0.01 8.54" stroke-linecap="round" />
<line x1="1194.5" y1="2444" x2="1194.5" y2="2146" stroke="#e9e9e9" stroke-width="2.7" stroke-dasharray="0.01 8.54" stroke-linecap="round" />
<line x1="1258.9" y1="2444" x2="1258.9" y2="2146" stroke="#e9e9e9" stroke-width="2.7" stroke-dasharray="0.01 8.54" stroke-linecap="round" />
<line x1="1323.3" y1="2444" x2="1323.3" y2="2146" stroke="#e9e9e9" stroke-width="2.7" stroke-dasharray="0.01 8.54" stroke-linecap="round" />
<line x1="1387.7" y1="2444" x2="1387.7" y2="2146" stroke="#e9e9e9" stroke-width="2.7" stroke-dasharray="0.01 8.54" stroke-linecap="round" />
<line x1="1452.1" y1="2444" x2="1452.1" y2="2146" stroke="#e9e9e9" stroke-width="2.7" stroke-dasharray="0.01 8.54" stroke-linecap="round" />
<line x1="1516.5" y1="2444" x2="1516.5" y2="2146" stroke="#e9e9e9" stroke-width="2.7" stroke-dasharray="0.01 8.54" stroke-linecap="round" />
<line x1="1580.9" y1="2444" x2="1580.9" y2="2146" stroke="#e9e9e9" stroke-width="2.7" stroke-dasharray="0.01 8.54" stroke-linecap="round" />
<line x1="1645.3" y1="2444" x2="1645.3" y2="2146" stroke="#e9e9e9" stroke-width="2.7" stroke-dasharray="0.01 8.54" stroke-linecap="round" />
<line x1="1709.7" y1="2444" x2="1709.7" y2="2146" stroke="#e9e9e9" stroke-width="2.7" stroke-dasharray="0.01 8.54" stroke-linecap="round" />
<line x1="1774.1" y1="2444" x2="1774.1" y2="2146" stroke="#e9e9e9" stroke-width="2.7" stroke-dasharray="0.01 8.54" stroke-linecap="round" />
<line x1="1838.5" y1="2444" x2="1838.5" y2="2146" stroke="#e9e9e9" stroke-width="2.7" stroke-dasharray="0.01 8.54" stroke-linecap="round" />
<line x1="1902.9" y1="2444" x2="1902.9" y2="2146" stroke="#e9e9e9" stroke-width="2.7" stroke-dasharray="0.01 8.54" stroke-linecap="round" />
<circle cx="228.5" cy="2326.1" r="5.6" fill="none" stroke="#d4d4d4" stroke-width="1.4"/>
<circle cx="228.5" cy="2333" r="5.6" fill="none" stroke="#d4d4d4" stroke-width="1.4"/>
<circle cx="292.9" cy="2349.4" r="5.6" fill="none" stroke="#d4d4d4" stroke-width="1.4"/>
<circle cx="292.9" cy="2364.6" r="5.6" fill="none" stroke="#d4d4d4" stroke-width="1.4"/>
<circle cx="357.3" cy="2328.9" r="5.6" fill="none" stroke="#d4d4d4" stroke-width="1.4"/>
<circle cx="357.3" cy="2334.9" r="5.6" fill="none" stroke="#d4d4d4" stroke-width="1.4"/>
<circle cx="357.3" cy="2343" r="5.6" fill="none" stroke="#d4d4d4" stroke-width="1.4"/>
<circle cx="357.3" cy="2356.2" r="5.6" fill="none" stroke="#d4d4d4" stroke-width="1.4"/>
<circle cx="357.3" cy="2373" r="5.6" fill="none" stroke="#d4d4d4" stroke-width="1.4"/>
<circle cx="357.3" cy="2384.2" r="5.6" fill="none" stroke="#d4d4d4" stroke-width="1.4"/>
<circle cx="357.3" cy="2391" r="5.6" fill="none" stroke="#d4d4d4" stroke-width="1.4"/>
<circle cx="357.3" cy="2425.4" r="5.6" fill="none" stroke="#d4d4d4" stroke-width="1.4"/>
<circle cx="357.3" cy="2432.2" r="5.6" fill="none" stroke="#d4d4d4" stroke-width="1.4"/>
<circle cx="357.3" cy="2438.2" r="5.6" fill="none" stroke="#d4d4d4" stroke-width="1.4"/>
<circle cx="421.7" cy="2349.4" r="5.6" fill="none" stroke="#d4d4d4" stroke-width="1.4"/>
<circle cx="421.7" cy="2364.2" r="5.6" fill="none" stroke="#d4d4d4" stroke-width="1.4"/>
<circle cx="421.7" cy="2385.4" r="5.6" fill="none" stroke="#d4d4d4" stroke-width="1.4"/>
<circle cx="421.7" cy="2388.2" r="5.6" fill="none" stroke="#d4d4d4" stroke-width="1.4"/>
<circle cx="421.7" cy="2418.2" r="5.6" fill="none" stroke="#d4d4d4" stroke-width="1.4"/>
<circle cx="486.1" cy="2352.2" r="5.6" fill="none" stroke="#d4d4d4" stroke-width="1.4"/>
<circle cx="486.1" cy="2419.8" r="5.6" fill="none" stroke="#d4d4d4" stroke-width="1.4"/>
<circle cx="550.5" cy="2368.2" r="5.6" fill="none" stroke="#d4d4d4" stroke-width="1.4"/>
<circle cx="679.3" cy="2367" r="5.6" fill="none" stroke="#d4d4d4" stroke-width="1.4"/>
<circle cx="808.1" cy="2391" r="5.6" fill="none" stroke="#d4d4d4" stroke-width="1.4"/>
<circle cx="808.1" cy="2410.2" r="5.6" fill="none" stroke="#d4d4d4" stroke-width="1.4"/>
<circle cx="872.5" cy="2368.2" r="5.6" fill="none" stroke="#d4d4d4" stroke-width="1.4"/>
<circle cx="872.5" cy="2374.2" r="5.6" fill="none" stroke="#d4d4d4" stroke-width="1.4"/>
<circle cx="936.9" cy="2328.1" r="5.6" fill="none" stroke="#d4d4d4" stroke-width="1.4"/>
<circle cx="936.9" cy="2378.2" r="5.6" fill="none" stroke="#d4d4d4" stroke-width="1.4"/>
<circle cx="936.9" cy="2391" r="5.6" fill="none" stroke="#d4d4d4" stroke-width="1.4"/>
<circle cx="936.9" cy="2412.2" r="5.6" fill="none" stroke="#d4d4d4" stroke-width="1.4"/>
<circle cx="1001.3" cy="2349.4" r="5.6" fill="none" stroke="#d4d4d4" stroke-width="1.4"/>
<circle cx="1001.3" cy="2375.4" r="5.6" fill="none" stroke="#d4d4d4" stroke-width="1.4"/>
<circle cx="1001.3" cy="2397" r="5.6" fill="none" stroke="#d4d4d4" stroke-width="1.4"/>
<circle cx="1001.3" cy="2409" r="5.6" fill="none" stroke="#d4d4d4" stroke-width="1.4"/>
<circle cx="1065.7" cy="2356.2" r="5.6" fill="none" stroke="#d4d4d4" stroke-width="1.4"/>
<circle cx="1065.7" cy="2363.4" r="5.6" fill="none" stroke="#d4d4d4" stroke-width="1.4"/>
<circle cx="1065.7" cy="2397.4" r="5.6" fill="none" stroke="#d4d4d4" stroke-width="1.4"/>
<circle cx="1130.1" cy="2319.3" r="5.6" fill="none" stroke="#d4d4d4" stroke-width="1.4"/>
<circle cx="1130.1" cy="2391" r="5.6" fill="none" stroke="#d4d4d4" stroke-width="1.4"/>
<circle cx="1130.1" cy="2398.2" r="5.6" fill="none" stroke="#d4d4d4" stroke-width="1.4"/>
<circle cx="1130.1" cy="2417" r="5.6" fill="none" stroke="#d4d4d4" stroke-width="1.4"/>
<circle cx="1194.5" cy="2320.1" r="5.6" fill="none" stroke="#d4d4d4" stroke-width="1.4"/>
<circle cx="1194.5" cy="2343.6" r="5.6" fill="none" stroke="#d4d4d4" stroke-width="1.4"/>
<circle cx="1194.5" cy="2391.5" r="5.6" fill="none" stroke="#d4d4d4" stroke-width="1.4"/>
<circle cx="1258.9" cy="2367.1" r="5.6" fill="none" stroke="#d4d4d4" stroke-width="1.4"/>
<circle cx="1258.9" cy="2377.4" r="5.6" fill="none" stroke="#d4d4d4" stroke-width="1.4"/>
<circle cx="1258.9" cy="2382.7" r="5.6" fill="none" stroke="#d4d4d4" stroke-width="1.4"/>
<circle cx="1258.9" cy="2421.9" r="5.6" fill="none" stroke="#d4d4d4" stroke-width="1.4"/>
<circle cx="1258.9" cy="2425.8" r="5.6" fill="none" stroke="#d4d4d4" stroke-width="1.4"/>
<circle cx="1323.3" cy="2385.2" r="5.6" fill="none" stroke="#d4d4d4" stroke-width="1.4"/>
<circle cx="1387.7" cy="2372" r="5.6" fill="none" stroke="#d4d4d4" stroke-width="1.4"/>
<circle cx="1387.7" cy="2403.3" r="5.6" fill="none" stroke="#d4d4d4" stroke-width="1.4"/>
<circle cx="1387.7" cy="2410.6" r="5.6" fill="none" stroke="#d4d4d4" stroke-width="1.4"/>
<circle cx="1387.7" cy="2427.8" r="5.6" fill="none" stroke="#d4d4d4" stroke-width="1.4"/>
<circle cx="1387.7" cy="2434.1" r="5.6" fill="none" stroke="#d4d4d4" stroke-width="1.4"/>
<circle cx="1452.1" cy="2425.8" r="5.6" fill="none" stroke="#d4d4d4" stroke-width="1.4"/>
<circle cx="1516.5" cy="2405.7" r="5.6" fill="none" stroke="#d4d4d4" stroke-width="1.4"/>
<circle cx="1516.5" cy="2410.6" r="5.6" fill="none" stroke="#d4d4d4" stroke-width="1.4"/>
<circle cx="1516.5" cy="2421.9" r="5.6" fill="none" stroke="#d4d4d4" stroke-width="1.4"/>
<circle cx="1580.9" cy="2361.7" r="5.6" fill="none" stroke="#d4d4d4" stroke-width="1.4"/>
<circle cx="1645.3" cy="2415.5" r="5.6" fill="none" stroke="#d4d4d4" stroke-width="1.4"/>
<circle cx="1645.3" cy="2417" r="5.6" fill="none" stroke="#d4d4d4" stroke-width="1.4"/>
<circle cx="1645.3" cy="2437.1" r="5.6" fill="none" stroke="#d4d4d4" stroke-width="1.4"/>
<circle cx="1709.7" cy="2417" r="5.6" fill="none" stroke="#d4d4d4" stroke-width="1.4"/>
<circle cx="1709.7" cy="2421.9" r="5.6" fill="none" stroke="#d4d4d4" stroke-width="1.4"/>
<circle cx="1774.1" cy="2416.5" r="5.6" fill="none" stroke="#d4d4d4" stroke-width="1.4"/>
<circle cx="1774.1" cy="2428.7" r="5.6" fill="none" stroke="#d4d4d4" stroke-width="1.4"/>
<circle cx="1838.5" cy="2407.2" r="5.6" fill="none" stroke="#d4d4d4" stroke-width="1.4"/>
<circle cx="1902.9" cy="2371.5" r="5.6" fill="none" stroke="#d4d4d4" stroke-width="1.4"/>
<circle cx="1902.9" cy="2388.6" r="5.6" fill="none" stroke="#d4d4d4" stroke-width="1.4"/>
<line x1="126.5" y1="2319" x2="1942.3" y2="2319" stroke="#4a4a4a" stroke-width="1.7" stroke-dasharray="4.5 3.9" />
<line x1="357.4" y1="2177.7" x2="577" y2="2176.5" stroke="#b9b9b9" stroke-width="1.6" />
<line x1="228.1" y1="2253.3" x2="442.3" y2="2222" stroke="#b9b9b9" stroke-width="1.6" />
<line x1="228.1" y1="2261.3" x2="806.2" y2="2178" stroke="#b9b9b9" stroke-width="1.6" />
<line x1="228.1" y1="2261.3" x2="590.4" y2="2230.7" stroke="#b9b9b9" stroke-width="1.6" />
<line x1="357.4" y1="2256.1" x2="988.3" y2="2223.3" stroke="#b9b9b9" stroke-width="1.6" />
<line x1="357.4" y1="2256.1" x2="808.2" y2="2282.1" stroke="#b9b9b9" stroke-width="1.6" />
<line x1="357.4" y1="2289.7" x2="408.2" y2="2284" stroke="#b9b9b9" stroke-width="1.6" />
<line x1="357.4" y1="2298.1" x2="588.2" y2="2376.2" stroke="#b9b9b9" stroke-width="1.6" />
<line x1="357.4" y1="2316.5" x2="386.2" y2="2388.2" stroke="#b9b9b9" stroke-width="1.6" />
<line x1="229" y1="2288.9" x2="216.1" y2="2327" stroke="#b9b9b9" stroke-width="1.6" />
<line x1="485.9" y1="2297.7" x2="590.2" y2="2292" stroke="#b9b9b9" stroke-width="1.6" />
<line x1="485.9" y1="2297.7" x2="446.3" y2="2315.3" stroke="#b9b9b9" stroke-width="1.6" />
<line x1="614.8" y1="2317.7" x2="760.9" y2="2336.1" stroke="#b9b9b9" stroke-width="1.6" />
<line x1="743.7" y1="2304.9" x2="948.2" y2="2329" stroke="#b9b9b9" stroke-width="1.6" />
<line x1="1194.4" y1="2279.8" x2="1138.4" y2="2295.3" stroke="#b9b9b9" stroke-width="1.6" />
<line x1="1387.8" y1="2277" x2="1422.7" y2="2275" stroke="#b9b9b9" stroke-width="1.6" />
<circle cx="164.1" cy="2231.6" r="5.6" fill="#d9572b" fill-opacity="0.92" stroke="#5e2a17" stroke-width="1.1"/>
<circle cx="164.1" cy="2273.8" r="5.6" fill="#d9572b" fill-opacity="0.92" stroke="#5e2a17" stroke-width="1.1"/>
<circle cx="228.5" cy="2253.3" r="5.6" fill="#d9572b" fill-opacity="0.92" stroke="#5e2a17" stroke-width="1.1"/>
<circle cx="228.5" cy="2261.3" r="5.6" fill="#d9572b" fill-opacity="0.92" stroke="#5e2a17" stroke-width="1.1"/>
<circle cx="228.5" cy="2288.9" r="5.6" fill="#d9572b" fill-opacity="0.92" stroke="#5e2a17" stroke-width="1.1"/>
<circle cx="292.9" cy="2160.8" r="5.6" fill="#d9572b" fill-opacity="0.92" stroke="#5e2a17" stroke-width="1.1"/>
<circle cx="357.3" cy="2177.7" r="5.6" fill="#d9572b" fill-opacity="0.92" stroke="#5e2a17" stroke-width="1.1"/>
<circle cx="357.3" cy="2256.1" r="5.6" fill="#d9572b" fill-opacity="0.92" stroke="#5e2a17" stroke-width="1.1"/>
<circle cx="357.3" cy="2289.7" r="5.6" fill="#d9572b" fill-opacity="0.92" stroke="#5e2a17" stroke-width="1.1"/>
<circle cx="357.3" cy="2298.1" r="5.6" fill="#d9572b" fill-opacity="0.92" stroke="#5e2a17" stroke-width="1.1"/>
<circle cx="357.3" cy="2316.5" r="5.6" fill="#d9572b" fill-opacity="0.92" stroke="#5e2a17" stroke-width="1.1"/>
<circle cx="486.1" cy="2297.7" r="5.6" fill="#d9572b" fill-opacity="0.92" stroke="#5e2a17" stroke-width="1.1"/>
<circle cx="614.9" cy="2317.7" r="5.6" fill="#d9572b" fill-opacity="0.92" stroke="#5e2a17" stroke-width="1.1"/>
<circle cx="743.7" cy="2304.9" r="5.6" fill="#d9572b" fill-opacity="0.92" stroke="#5e2a17" stroke-width="1.1"/>
<circle cx="1194.5" cy="2279.8" r="5.6" fill="#d9572b" fill-opacity="0.92" stroke="#5e2a17" stroke-width="1.1"/>
<circle cx="1387.7" cy="2277" r="5.6" fill="#d9572b" fill-opacity="0.92" stroke="#5e2a17" stroke-width="1.1"/>
<text x="142.5" y="2188.3" font-size="34">Carfilzomib</text>
<text x="168.5" y="2231.9" font-size="34">Ganetespib</text>
<text x="142.5" y="2293.1" font-size="34">Onalespib</text>
<text x="141.5" y="2355.2" font-size="34">Ribociclib</text>
<text x="376.5" y="2218.3" font-size="34">Palbociclib</text>
<text x="376.5" y="2279.1" font-size="34">Fludarabine</text>
<text x="376.5" y="2343.2" font-size="34">Idelalisib</text>
<text x="292" y="2415.2" font-size="34">8-Azaguanin</text>
<text x="519" y="2403.6" font-size="34">Vindesine</text>
<text x="579.5" y="2189" font-size="34">Idarubicin</text>
<text x="594" y="2242.3" font-size="34">Abemaciclib</text>
<text x="591.5" y="2303.1" font-size="34">Duvelisib</text>
<text x="808.5" y="2189" font-size="34">Dinaciclib</text>
<text x="990.5" y="2234.3" font-size="34">Cladribine</text>
<text x="809.5" y="2295.1" font-size="34">Mitoxantrone</text>
<text x="702.3" y="2364" font-size="34">Resveratrol</text>
<text x="912.3" y="2357.2" font-size="34">C646</text>
<text x="1043.3" y="2323.1" font-size="34">SGC 0946</text>
<text x="1407" y="2272.1" font-size="34">BRD73954</text>
<line x1="125.3" y1="2146" x2="125.3" y2="2454.1" stroke="#000" stroke-width="2.7" />
<line x1="124" y1="2452.8" x2="1942.3" y2="2452.8" stroke="#000" stroke-width="2.7" />
<line x1="119.8" y1="2160.2" x2="125.3" y2="2160.2" stroke="#333" stroke-width="1.7" />
<text x="114.7" y="2172.8" font-size="35.5" text-anchor="end" fill="#4d4d4d">3</text>
<line x1="119.8" y1="2253.6" x2="125.3" y2="2253.6" stroke="#333" stroke-width="1.7" />
<text x="114.7" y="2266.2" font-size="35.5" text-anchor="end" fill="#4d4d4d">2</text>
<line x1="119.8" y1="2347" x2="125.3" y2="2347" stroke="#333" stroke-width="1.7" />
<text x="114.7" y="2359.6" font-size="35.5" text-anchor="end" fill="#4d4d4d">1</text>
<line x1="119.8" y1="2440.4" x2="125.3" y2="2440.4" stroke="#333" stroke-width="1.7" />
<text x="114.7" y="2453" font-size="35.5" text-anchor="end" fill="#4d4d4d">0</text>
<text x="73.3" y="2430.5" font-size="38" font-family="'Liberation Serif', 'DejaVu Serif', serif" transform="rotate(-90 73.3 2430.5)">–</text>
<text x="73.3" y="2405.5" font-size="38.3" transform="rotate(-90 73.3 2405.5)">log</text>
<text x="81.6" y="2350" font-size="28" transform="rotate(-90 81.6 2350)">10</text>
<text x="73.3" y="2320" font-size="38.3" transform="rotate(-90 73.3 2320)">(</text>
<text x="73.3" y="2307" font-size="38.3" font-style="italic" transform="rotate(-90 73.3 2307)">P</text>
<text x="73.3" y="2270.5" font-size="37.6" transform="rotate(-90 73.3 2270.5)">value)</text>
<line x1="164.1" y1="2460.3" x2="164.1" y2="2470" stroke="#2b2b2b" stroke-width="2.7" stroke-dasharray="0.01 8.5" stroke-linecap="round" />
<text x="178.6" y="2489.7" font-size="28" text-anchor="end" fill="#4d4d4d" transform="rotate(-45 178.6 2489.7)">Stress response</text>
<line x1="228.5" y1="2460.3" x2="228.5" y2="2470" stroke="#2b2b2b" stroke-width="2.7" stroke-dasharray="0.01 8.5" stroke-linecap="round" />
<text x="243" y="2489.7" font-size="28" text-anchor="end" fill="#4d4d4d" transform="rotate(-45 243 2489.7)">Cyclin dependent kinases</text>
<line x1="292.9" y1="2460.3" x2="292.9" y2="2470" stroke="#2b2b2b" stroke-width="2.7" stroke-dasharray="0.01 8.5" stroke-linecap="round" />
<text x="307.4" y="2489.7" font-size="28" text-anchor="end" fill="#4d4d4d" transform="rotate(-45 307.4 2489.7)">Proteasome</text>
<line x1="357.3" y1="2460.3" x2="357.3" y2="2470" stroke="#2b2b2b" stroke-width="2.7" stroke-dasharray="0.01 8.5" stroke-linecap="round" />
<text x="371.8" y="2489.7" font-size="28" text-anchor="end" fill="#4d4d4d" transform="rotate(-45 371.8 2489.7)">Chemotherapy</text>
<line x1="421.7" y1="2460.3" x2="421.7" y2="2470" stroke="#2b2b2b" stroke-width="2.7" stroke-dasharray="0.01 8.5" stroke-linecap="round" />
<text x="436.2" y="2489.7" font-size="28" text-anchor="end" fill="#4d4d4d" transform="rotate(-45 436.2 2489.7)">DNA damage response</text>
<line x1="486.1" y1="2460.3" x2="486.1" y2="2470" stroke="#2b2b2b" stroke-width="2.7" stroke-dasharray="0.01 8.5" stroke-linecap="round" />
<text x="500.6" y="2489.7" font-size="28" text-anchor="end" fill="#4d4d4d" transform="rotate(-45 500.6 2489.7)">PI3K/AKT/mTOR</text>
<line x1="550.5" y1="2460.3" x2="550.5" y2="2470" stroke="#2b2b2b" stroke-width="2.7" stroke-dasharray="0.01 8.5" stroke-linecap="round" />
<text x="565" y="2489.7" font-size="28" text-anchor="end" fill="#4d4d4d" transform="rotate(-45 565 2489.7)">Nuclear export</text>
<line x1="614.9" y1="2460.3" x2="614.9" y2="2470" stroke="#2b2b2b" stroke-width="2.7" stroke-dasharray="0.01 8.5" stroke-linecap="round" />
<text x="629.4" y="2489.7" font-size="28" text-anchor="end" fill="#4d4d4d" transform="rotate(-45 629.4 2489.7)">Other</text>
<line x1="679.3" y1="2460.3" x2="679.3" y2="2470" stroke="#2b2b2b" stroke-width="2.7" stroke-dasharray="0.01 8.5" stroke-linecap="round" />
<text x="693.8" y="2489.7" font-size="28" text-anchor="end" fill="#4d4d4d" transform="rotate(-45 693.8 2489.7)">HGF</text>
<line x1="743.7" y1="2460.3" x2="743.7" y2="2470" stroke="#2b2b2b" stroke-width="2.7" stroke-dasharray="0.01 8.5" stroke-linecap="round" />
<text x="758.2" y="2489.7" font-size="28" text-anchor="end" fill="#4d4d4d" transform="rotate(-45 758.2 2489.7)">Histone acetyltransferase</text>
<line x1="808.1" y1="2460.3" x2="808.1" y2="2470" stroke="#2b2b2b" stroke-width="2.7" stroke-dasharray="0.01 8.5" stroke-linecap="round" />
<text x="822.6" y="2489.7" font-size="28" text-anchor="end" fill="#4d4d4d" transform="rotate(-45 822.6 2489.7)">FLT3</text>
<line x1="872.5" y1="2460.3" x2="872.5" y2="2470" stroke="#2b2b2b" stroke-width="2.7" stroke-dasharray="0.01 8.5" stroke-linecap="round" />
<text x="887" y="2489.7" font-size="28" text-anchor="end" fill="#4d4d4d" transform="rotate(-45 887 2489.7)">TLR</text>
<line x1="936.9" y1="2460.3" x2="936.9" y2="2470" stroke="#2b2b2b" stroke-width="2.7" stroke-dasharray="0.01 8.5" stroke-linecap="round" />
<text x="951.4" y="2489.7" font-size="28" text-anchor="end" fill="#4d4d4d" transform="rotate(-45 951.4 2489.7)">TNF/NFKB</text>
<line x1="1001.3" y1="2460.3" x2="1001.3" y2="2470" stroke="#2b2b2b" stroke-width="2.7" stroke-dasharray="0.01 8.5" stroke-linecap="round" />
<text x="1015.8" y="2489.7" font-size="28" text-anchor="end" fill="#4d4d4d" transform="rotate(-45 1015.8 2489.7)">IDH</text>
<line x1="1065.7" y1="2460.3" x2="1065.7" y2="2470" stroke="#2b2b2b" stroke-width="2.7" stroke-dasharray="0.01 8.5" stroke-linecap="round" />
<text x="1080.2" y="2489.7" font-size="28" text-anchor="end" fill="#4d4d4d" transform="rotate(-45 1080.2 2489.7)">Cell cycle control</text>
<line x1="1130.1" y1="2460.3" x2="1130.1" y2="2470" stroke="#2b2b2b" stroke-width="2.7" stroke-dasharray="0.01 8.5" stroke-linecap="round" />
<text x="1144.6" y="2489.7" font-size="28" text-anchor="end" fill="#4d4d4d" transform="rotate(-45 1144.6 2489.7)">JAK/STAT</text>
<line x1="1194.5" y1="2460.3" x2="1194.5" y2="2470" stroke="#2b2b2b" stroke-width="2.7" stroke-dasharray="0.01 8.5" stroke-linecap="round" />
<text x="1209" y="2489.7" font-size="28" text-anchor="end" fill="#4d4d4d" transform="rotate(-45 1209 2489.7)">Histone methyltransferase</text>
<line x1="1258.9" y1="2460.3" x2="1258.9" y2="2470" stroke="#2b2b2b" stroke-width="2.7" stroke-dasharray="0.01 8.5" stroke-linecap="round" />
<text x="1273.4" y="2489.7" font-size="28" text-anchor="end" fill="#4d4d4d" transform="rotate(-45 1273.4 2489.7)">Apoptosis</text>
<line x1="1323.3" y1="2460.3" x2="1323.3" y2="2470" stroke="#2b2b2b" stroke-width="2.7" stroke-dasharray="0.01 8.5" stroke-linecap="round" />
<text x="1337.8" y="2489.7" font-size="28" text-anchor="end" fill="#4d4d4d" transform="rotate(-45 1337.8 2489.7)">ALK</text>
<line x1="1387.7" y1="2460.3" x2="1387.7" y2="2470" stroke="#2b2b2b" stroke-width="2.7" stroke-dasharray="0.01 8.5" stroke-linecap="round" />
<text x="1402.2" y="2489.7" font-size="28" text-anchor="end" fill="#4d4d4d" transform="rotate(-45 1402.2 2489.7)">Histone deacetylase</text>
<line x1="1452.1" y1="2460.3" x2="1452.1" y2="2470" stroke="#2b2b2b" stroke-width="2.7" stroke-dasharray="0.01 8.5" stroke-linecap="round" />
<text x="1466.6" y="2489.7" font-size="28" text-anchor="end" fill="#4d4d4d" transform="rotate(-45 1466.6 2489.7)">PKC</text>
<line x1="1516.5" y1="2460.3" x2="1516.5" y2="2470" stroke="#2b2b2b" stroke-width="2.7" stroke-dasharray="0.01 8.5" stroke-linecap="round" />
<text x="1531" y="2489.7" font-size="28" text-anchor="end" fill="#4d4d4d" transform="rotate(-45 1531 2489.7)">B cell receptor</text>
<line x1="1580.9" y1="2460.3" x2="1580.9" y2="2470" stroke="#2b2b2b" stroke-width="2.7" stroke-dasharray="0.01 8.5" stroke-linecap="round" />
<text x="1595.4" y="2489.7" font-size="28" text-anchor="end" fill="#4d4d4d" transform="rotate(-45 1595.4 2489.7)">Hedgehog</text>
<line x1="1645.3" y1="2460.3" x2="1645.3" y2="2470" stroke="#2b2b2b" stroke-width="2.7" stroke-dasharray="0.01 8.5" stroke-linecap="round" />
<text x="1659.8" y="2489.7" font-size="28" text-anchor="end" fill="#4d4d4d" transform="rotate(-45 1659.8 2489.7)">MAPK</text>
<line x1="1709.7" y1="2460.3" x2="1709.7" y2="2470" stroke="#2b2b2b" stroke-width="2.7" stroke-dasharray="0.01 8.5" stroke-linecap="round" />
<text x="1724.2" y="2489.7" font-size="28" text-anchor="end" fill="#4d4d4d" transform="rotate(-45 1724.2 2489.7)">BCR/ABL</text>
<line x1="1774.1" y1="2460.3" x2="1774.1" y2="2470" stroke="#2b2b2b" stroke-width="2.7" stroke-dasharray="0.01 8.5" stroke-linecap="round" />
<text x="1788.6" y="2489.7" font-size="28" text-anchor="end" fill="#4d4d4d" transform="rotate(-45 1788.6 2489.7)">PLK</text>
<line x1="1838.5" y1="2460.3" x2="1838.5" y2="2470" stroke="#2b2b2b" stroke-width="2.7" stroke-dasharray="0.01 8.5" stroke-linecap="round" />
<text x="1853" y="2489.7" font-size="28" text-anchor="end" fill="#4d4d4d" transform="rotate(-45 1853 2489.7)">Notch</text>
<line x1="1902.9" y1="2460.3" x2="1902.9" y2="2470" stroke="#2b2b2b" stroke-width="2.7" stroke-dasharray="0.01 8.5" stroke-linecap="round" />
<text x="1917.4" y="2489.7" font-size="28" text-anchor="end" fill="#4d4d4d" transform="rotate(-45 1917.4 2489.7)">Bromodomain</text>
</svg>
</body></html>
